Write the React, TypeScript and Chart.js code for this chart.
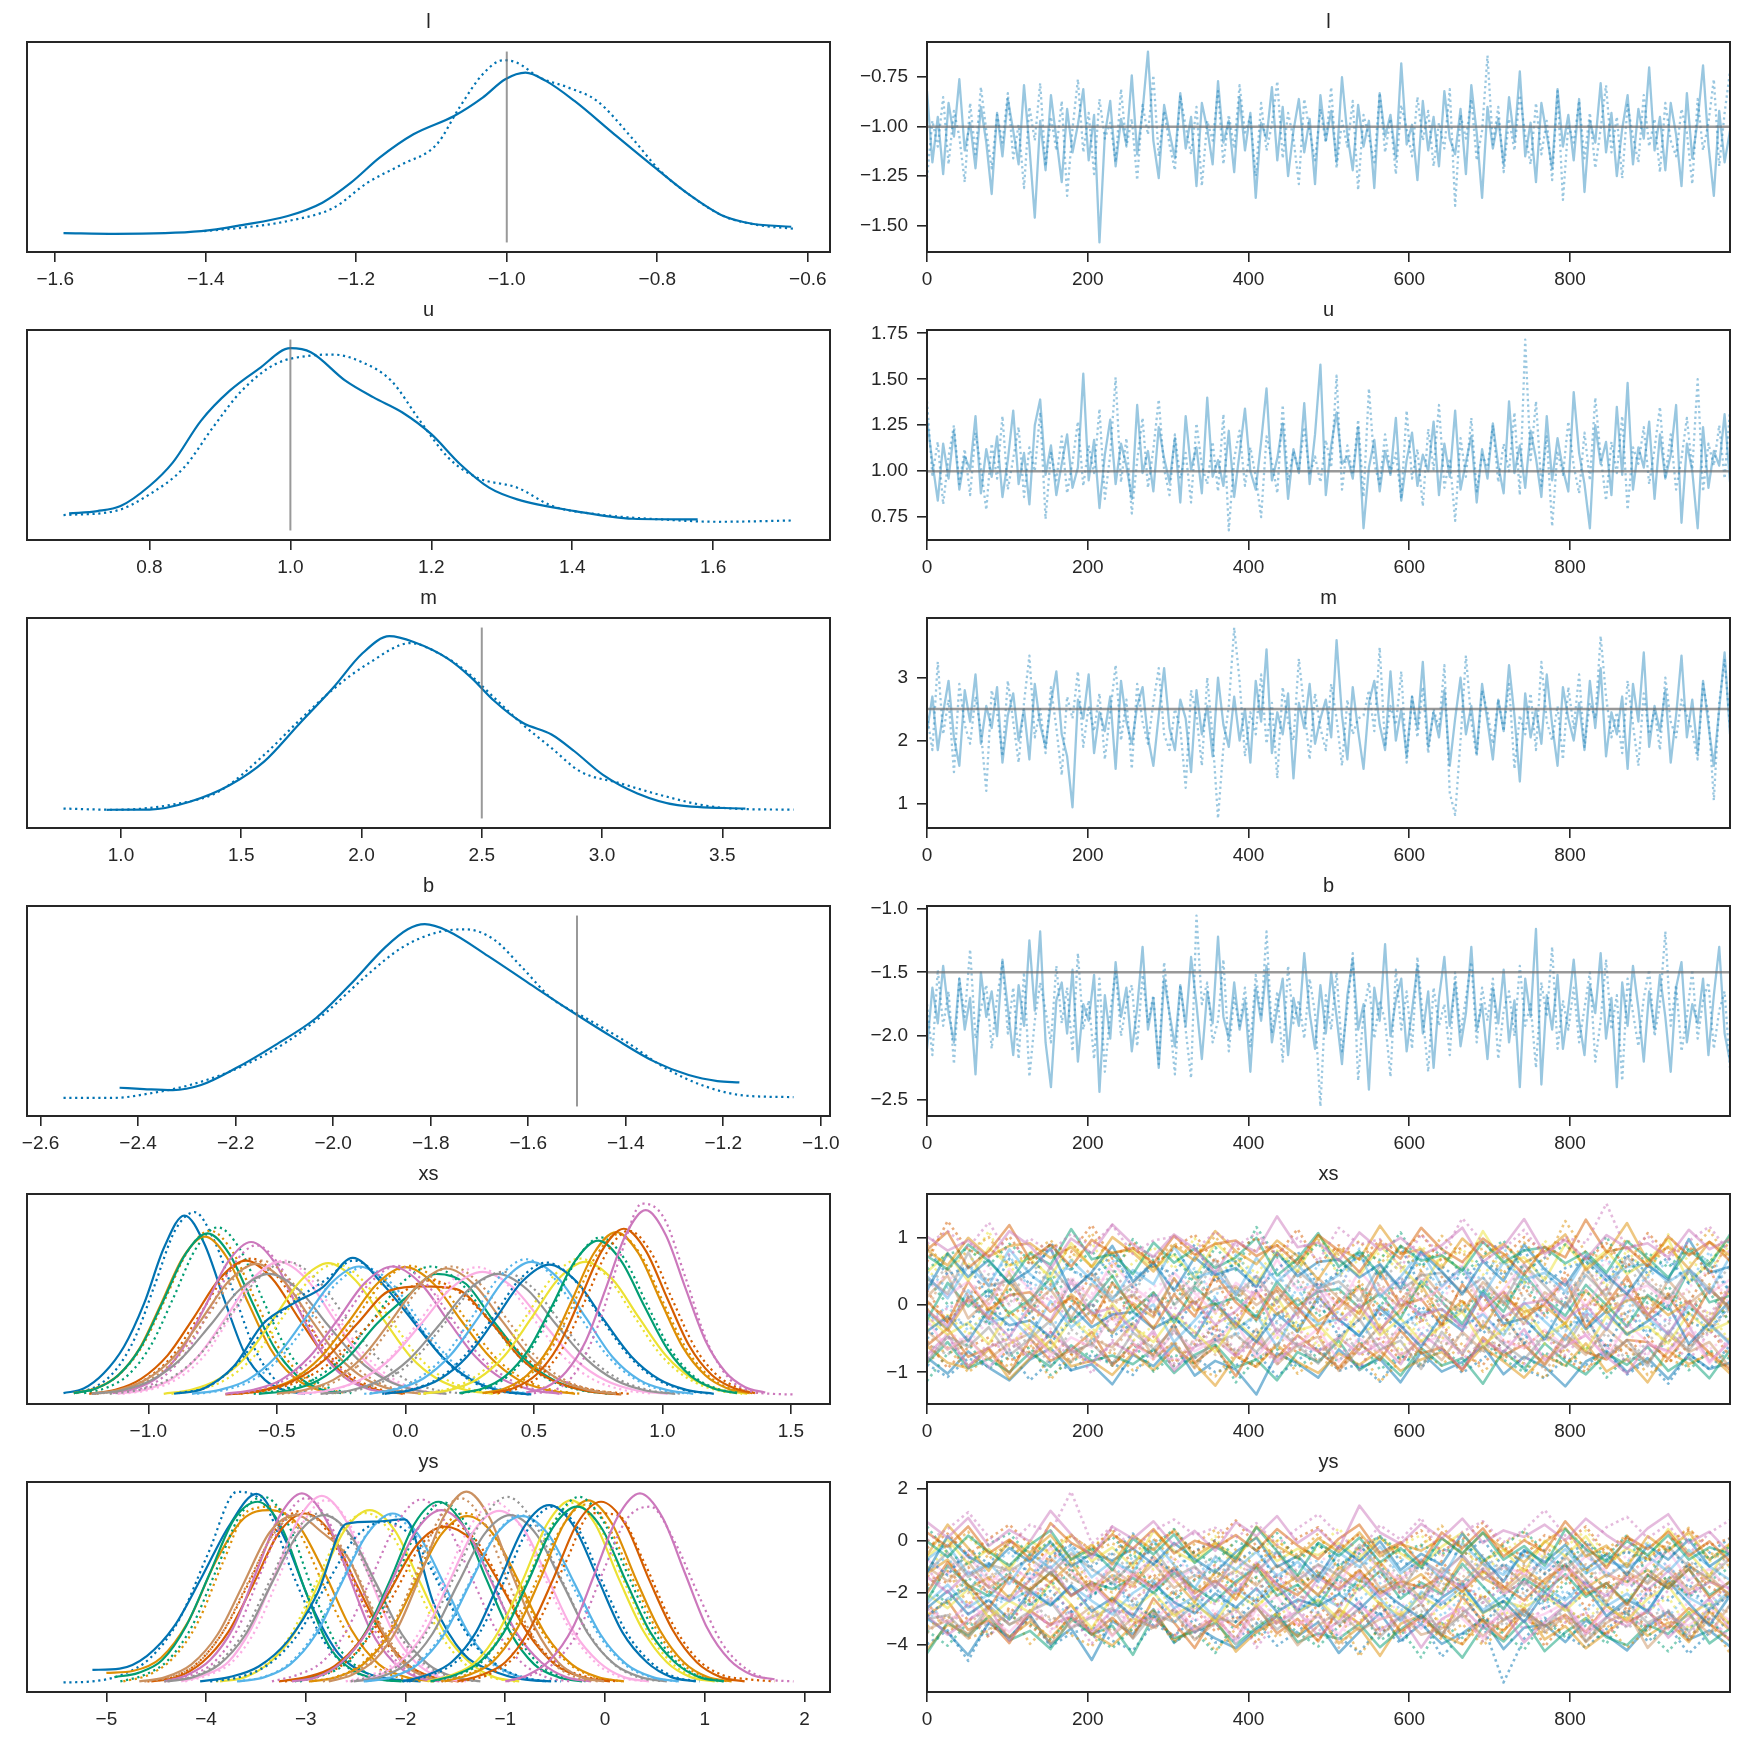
import React, { useEffect, useRef } from "react";
import { Chart, registerables } from "chart.js";

Chart.register(...registerables);

// ------------------------------------------------------------------ data
const PALETTE = ["#0173b2", "#de8f05", "#029e73", "#d55e00", "#cc78bc", "#ca9161", "#fbafe4", "#949494", "#ece133", "#56b4e9"];
const DRAW_LAST = 999;
const DRAW_TICKS = [0, 200, 400, 600, 800];

// reference values
const lRef = -1.0;
const uRef = 1.0;
const mRef = 2.5;
const bRef = -1.5;

// tick labels
const lKdeTicks = [-1.6, -1.4, -1.2, -1.0, -0.8, -0.6];
const lTraceTicks = [-1.5, -1.25, -1.0, -0.75];
const uKdeTicks = [0.8, 1.0, 1.2, 1.4, 1.6];
const uTraceTicks = [0.75, 1.0, 1.25, 1.5, 1.75];
const mKdeTicks = [1.0, 1.5, 2.0, 2.5, 3.0, 3.5];
const mTraceTicks = [1, 2, 3];
const bKdeTicks = [-2.6, -2.4, -2.2, -2.0, -1.8, -1.6, -1.4, -1.2, -1.0];
const bTraceTicks = [-2.5, -2.0, -1.5, -1.0];
const xsKdeTicks = [-1.0, -0.5, 0.0, 0.5, 1.0, 1.5];
const xsTraceTicks = [-1, 0, 1];
const ysKdeTicks = [-5, -4, -3, -2, -1, 0, 1, 2];
const ysTraceTicks = [-4, -2, 0, 2];

// KDE curves (chain 0 solid, chain 1 dotted)
const lKdeX0 = [-1.589, -1.52, -1.406, -1.352, -1.291, -1.245, -1.207, -1.169, -1.124, -1.07, -1.032, -1.002, -0.975, -0.948, -0.91, -0.857, -0.803, -0.758, -0.712, -0.674, -0.622];
const lKdeY0 = [0.058, 0.046, 0.092, 0.197, 0.353, 0.584, 0.931, 1.364, 1.769, 2.087, 2.405, 2.723, 2.838, 2.694, 2.347, 1.769, 1.191, 0.728, 0.353, 0.22, 0.168];
const lKdeX1 = [-1.402, -1.352, -1.291, -1.23, -1.185, -1.139, -1.093, -1.063, -1.032, -1.005, -0.987, -0.956, -0.918, -0.88, -0.834, -0.796, -0.758, -0.712, -0.666, -0.619];
const lKdeY1 = [0.092, 0.15, 0.266, 0.497, 0.931, 1.249, 1.595, 2.231, 2.809, 3.052, 3.012, 2.751, 2.578, 2.347, 1.711, 1.133, 0.728, 0.353, 0.197, 0.133];

const uKdeX0 = [0.686, 0.726, 0.759, 0.8, 0.833, 0.873, 0.914, 0.955, 1.0, 1.029, 1.078, 1.118, 1.159, 1.2, 1.241, 1.282, 1.322, 1.404, 1.486, 1.578];
const uKdeY0 = [0.253, 0.294, 0.382, 0.735, 1.147, 1.882, 2.412, 2.794, 3.159, 3.088, 2.588, 2.294, 2.029, 1.647, 1.118, 0.706, 0.5, 0.294, 0.159, 0.147];
const uKdeX1 = [0.678, 0.751, 0.8, 0.849, 0.89, 0.931, 0.979, 1.029, 1.061, 1.102, 1.143, 1.184, 1.224, 1.265, 1.322, 1.372, 1.437, 1.527, 1.608, 1.714];
const uKdeY1 = [0.224, 0.294, 0.588, 1.059, 1.765, 2.412, 2.882, 3.029, 3.047, 2.912, 2.588, 1.882, 1.235, 0.882, 0.706, 0.382, 0.235, 0.147, 0.106, 0.129];

const mKdeX0 = [0.94, 1.119, 1.286, 1.453, 1.596, 1.739, 1.883, 2.002, 2.116, 2.217, 2.36, 2.455, 2.551, 2.67, 2.79, 2.885, 3.004, 3.147, 3.314, 3.596];
const mKdeY0 = [0.027, 0.028, 0.067, 0.15, 0.267, 0.45, 0.633, 0.8, 0.887, 0.858, 0.775, 0.683, 0.567, 0.458, 0.4, 0.317, 0.2, 0.108, 0.05, 0.033];
const mKdeX1 = [0.761, 0.976, 1.215, 1.406, 1.596, 1.739, 1.883, 2.026, 2.205, 2.312, 2.431, 2.551, 2.67, 2.79, 2.909, 3.076, 3.243, 3.434, 3.601, 3.796];
const mKdeY1 = [0.033, 0.027, 0.053, 0.117, 0.3, 0.467, 0.625, 0.75, 0.853, 0.808, 0.717, 0.583, 0.45, 0.333, 0.217, 0.158, 0.1, 0.047, 0.03, 0.028];

const bKdeX0 = [-2.438, -2.388, -2.329, -2.271, -2.2, -2.118, -2.035, -1.965, -1.894, -1.847, -1.812, -1.765, -1.682, -1.6, -1.506, -1.424, -1.341, -1.271, -1.212, -1.167];
const bKdeY0 = [0.179, 0.166, 0.155, 0.207, 0.379, 0.621, 0.897, 1.241, 1.621, 1.81, 1.862, 1.793, 1.534, 1.259, 0.948, 0.69, 0.448, 0.31, 0.248, 0.234];
const bKdeX1 = [-2.553, -2.447, -2.376, -2.294, -2.188, -2.094, -2.012, -1.929, -1.859, -1.788, -1.729, -1.671, -1.612, -1.553, -1.482, -1.4, -1.318, -1.235, -1.153, -1.056];
const bKdeY1 = [0.076, 0.076, 0.121, 0.207, 0.397, 0.655, 0.966, 1.345, 1.621, 1.776, 1.81, 1.707, 1.414, 1.103, 0.897, 0.655, 0.379, 0.19, 0.097, 0.083];

// traces (thinned draws, evenly spaced over 0..999)
const lTrace0 = [
  -0.82,-1.18,-0.95,-1.24,-0.88,-1.05,-0.76,-1.12,-0.98,-1.21,-0.90,-1.08,-1.34,-0.93,-1.15,
  -0.86,-1.02,-1.19,-0.79,-1.10,-1.46,-0.97,-1.22,-0.84,-1.06,-1.28,-0.91,-1.13,-0.99,-0.81,
  -1.17,-0.94,-1.585,-1.04,-0.87,-1.20,-0.96,-1.09,-0.74,-1.14,-0.92,-0.62,-1.07,-1.26,-0.89,
  -1.03,-1.16,-0.83,-1.11,-0.95,-1.30,-0.88,-1.01,-1.19,-0.77,-1.08,-0.97,-1.23,-0.85,-1.12,
  -0.93,-1.36,-0.98,-1.06,-0.80,-1.17,-0.90,-1.25,-1.02,-0.86,-1.13,-0.96,-1.29,-0.84,-1.07,
  -0.92,-1.18,-0.75,-1.04,-1.22,-0.89,-1.10,-0.97,-1.31,-0.83,-1.05,-0.94,-1.16,-0.68,-1.09,
  -0.99,-1.27,-0.87,-1.12,-0.95,-1.20,-0.82,-1.06,-1.14,-0.91,-1.24,-0.79,-1.03,-1.36,-0.90,
  -1.11,-0.96,-1.19,-0.85,-1.07,-0.72,-1.15,-0.98,-1.28,-0.88,-1.04,-1.21,-0.81,-1.10,-0.94,
  -1.17,-0.86,-1.33,-0.97,-1.08,-0.78,-1.13,-0.93,-1.25,-1.01,-0.84,-1.19,-0.91,-1.06,-0.70,
  -1.12,-0.95,-1.22,-0.88,-1.04,-1.30,-0.83,-1.16,-0.97,-0.69,-1.09,-1.35,-0.92,-1.18,-1.02,
];
const lTrace1 = [
  -1.26,-0.97,-1.10,-0.85,-1.19,-0.92,-1.05,-1.28,-0.88,-1.14,-0.80,-1.02,-1.21,-0.94,-1.08,
  -0.83,-1.16,-0.99,-1.31,-0.90,-1.07,-0.78,-1.20,-0.95,-1.12,-0.87,-1.35,-1.01,-0.76,-1.13,
  -0.93,-1.24,-0.86,-1.06,-0.98,-1.18,-0.81,-1.10,-0.96,-1.27,-0.89,-1.04,-0.74,-1.15,-0.92,
  -1.09,-1.22,-0.84,-1.00,-1.14,-0.90,-1.30,-0.97,-1.07,-0.82,-1.19,-0.94,-1.11,-0.79,-1.03,
  -0.95,-1.25,-0.88,-1.12,-0.99,-0.77,-1.16,-0.93,-1.06,-1.29,-0.86,-1.02,-1.17,-0.91,-1.08,
  -0.80,-1.21,-0.97,-1.10,-0.87,-1.32,-0.94,-1.05,-1.18,-0.83,-1.13,-0.96,-1.24,-0.89,-1.01,
  -1.15,-0.85,-1.07,-0.92,-1.20,-0.98,-1.11,-0.81,-1.40,-0.94,-1.06,-0.86,-1.17,-1.02,-0.64,
  -1.09,-0.90,-1.23,-0.96,-1.12,-0.84,-1.04,-1.19,-0.88,-1.14,-0.97,-1.27,-0.82,-1.37,-0.99,
  -1.08,-0.87,-1.16,-0.93,-1.21,-1.01,-0.79,-1.13,-0.95,-1.26,-0.89,-1.05,-1.18,-0.84,-1.10,
  -0.96,-1.23,-0.88,-1.07,-1.15,-0.91,-1.03,-1.29,-0.86,-1.12,-0.98,-0.76,-1.20,-0.93,-0.72,
];
const uTrace0 = [
  1.28,1.05,0.84,1.15,0.96,1.22,0.90,1.08,1.01,1.30,0.88,1.12,0.97,1.19,0.86,
  1.06,1.33,0.93,1.10,0.82,1.25,1.39,0.98,1.14,0.87,1.04,1.20,0.91,1.02,1.53,
  0.95,1.17,0.80,1.09,1.28,0.93,1.15,1.03,0.85,1.36,0.99,1.11,0.89,1.24,1.07,
  0.94,1.18,0.83,1.30,1.01,1.13,0.88,1.40,0.97,1.06,0.92,1.22,0.86,1.10,1.34,
  1.00,0.90,1.16,1.45,0.95,1.07,1.26,0.85,1.12,0.99,1.37,0.93,1.20,1.58,0.87,
  1.14,1.32,1.04,1.08,0.96,1.24,0.69,1.02,1.17,0.89,1.11,0.98,1.29,0.84,1.06,
  1.21,0.92,1.09,1.00,1.27,0.87,1.15,0.97,1.33,0.90,1.05,1.19,0.83,1.12,0.96,
  1.26,1.03,0.88,1.38,0.99,1.14,0.91,1.22,1.07,0.86,1.30,0.95,1.18,1.01,0.89,
  1.43,1.10,0.93,0.69,1.25,1.04,1.16,0.87,1.35,0.98,1.48,0.90,1.13,1.02,1.27,
  0.85,1.20,0.96,1.09,1.36,0.72,1.15,1.00,0.69,1.24,0.91,1.11,1.03,1.31,0.94,
];
const uTrace1 = [
  1.38,0.98,1.16,0.82,1.08,1.25,0.93,1.12,0.87,1.21,1.02,0.79,1.15,0.96,1.30,
  0.90,1.07,1.24,0.86,1.13,1.00,1.32,0.74,1.10,0.95,1.19,0.88,1.05,1.27,0.92,
  1.14,0.99,1.34,0.85,1.09,1.51,0.94,1.18,0.77,1.06,1.29,0.91,1.12,1.39,1.01,
  0.87,1.20,0.96,1.10,0.83,1.26,1.03,0.93,1.16,0.89,1.31,0.678,1.07,1.22,0.92,
  1.13,0.97,0.75,1.19,1.05,0.88,1.36,0.95,1.11,1.00,1.24,0.98,1.08,0.94,1.17,
  1.02,1.52,0.90,1.14,0.98,1.28,0.86,1.45,1.04,0.93,1.20,0.99,1.10,0.85,1.33,
  0.96,1.12,0.81,1.23,1.01,1.36,0.91,1.07,0.73,1.18,0.97,1.29,0.89,1.09,1.02,
  1.25,0.94,1.15,1.00,1.32,0.87,1.716,1.06,1.38,0.92,1.19,0.70,1.11,0.98,1.27,
  1.03,0.88,1.21,0.95,1.40,1.08,0.84,1.16,0.99,1.30,0.79,1.13,1.04,1.24,0.93,
  1.12,1.35,0.97,1.20,0.90,1.07,1.29,1.01,1.50,0.89,1.15,1.03,1.25,0.96,1.33,
];
const mTrace0 = [
  2.15,2.70,1.85,2.45,2.95,2.05,1.60,2.80,2.30,3.05,1.95,2.55,2.20,2.85,1.65,
  2.40,2.75,2.00,2.50,1.70,2.90,2.25,1.90,2.60,3.10,2.10,1.75,0.94,2.65,2.35,
  3.05,1.80,2.45,2.15,2.70,1.55,2.95,2.30,1.95,2.55,2.85,2.05,1.60,2.40,3.15,
  2.20,1.85,2.65,2.35,1.50,2.80,2.10,2.55,1.75,3.00,2.25,1.90,2.70,2.00,2.50,
  1.65,2.95,2.30,3.45,1.80,2.45,2.10,2.75,1.40,2.60,2.20,2.90,1.95,2.35,2.65,
  2.05,3.596,2.40,1.70,2.85,2.15,1.55,2.60,2.95,2.25,1.85,3.10,2.00,2.50,1.75,
  2.70,2.20,3.25,1.90,2.45,2.05,2.80,1.60,2.35,3.00,2.10,2.55,1.80,2.90,2.30,
  1.70,2.65,2.15,3.20,2.40,1.35,2.75,2.05,2.50,1.95,3.05,2.25,1.60,2.85,2.35,
  2.00,2.60,1.85,2.95,2.20,3.15,1.75,2.45,2.10,2.70,1.55,2.90,2.30,3.40,1.90,
  2.55,2.15,2.80,1.65,2.40,3.35,2.05,2.65,1.80,2.95,2.25,1.60,2.50,3.40,2.10,
];
const mTrace1 = [
  2.40,1.85,3.25,2.10,2.65,1.50,2.90,2.25,1.95,2.70,2.15,1.20,2.80,2.45,1.75,
  2.95,2.30,1.65,2.60,3.35,2.05,2.50,1.80,2.85,2.20,1.45,2.70,2.35,3.10,1.90,
  2.55,2.15,2.75,1.70,2.45,3.20,2.00,2.65,1.55,2.90,2.30,1.95,2.60,3.15,2.10,
  1.85,2.50,2.20,1.25,2.80,2.40,1.60,3.00,2.05,0.763,1.90,2.55,3.796,2.95,1.75,
  2.45,2.10,3.05,1.95,2.60,1.40,2.85,2.30,2.00,3.30,2.50,1.70,2.75,2.20,1.85,
  2.90,2.35,1.60,2.65,2.10,2.35,2.40,2.80,2.15,3.48,1.90,2.55,2.25,3.10,1.65,
  2.70,2.05,2.85,1.80,2.50,2.20,3.20,1.17,0.82,2.00,3.35,2.30,1.75,2.80,2.45,
  1.95,2.65,2.15,2.90,1.55,2.40,2.10,2.75,1.85,3.25,2.30,2.00,2.55,1.70,2.85,
  2.20,3.05,1.90,2.60,2.35,3.66,2.70,2.05,2.45,1.80,2.95,2.25,1.60,2.75,2.10,
  2.50,1.85,3.00,2.30,2.05,2.65,2.40,2.15,1.70,2.90,2.40,1.05,2.60,3.28,2.20,
];
const bTrace0 = [
  -2.10,-1.62,-1.90,-1.45,-1.82,-2.05,-1.55,-1.95,-1.70,-2.30,-1.50,-1.85,-1.65,-2.00,-1.40,
  -1.78,-2.15,-1.60,-1.92,-1.25,-1.80,-1.18,-2.05,-2.40,-1.72,-1.58,-1.98,-1.48,-2.20,-1.75,
  -1.88,-1.52,-2.438,-1.68,-2.02,-1.42,-1.85,-1.62,-2.12,-1.78,-1.30,-1.95,-1.70,-2.25,-1.55,
  -1.82,-2.08,-1.60,-1.92,-1.38,-1.75,-2.18,-1.65,-1.90,-1.22,-1.85,-2.02,-1.58,-1.95,-1.72,
  -2.28,-1.62,-1.88,-1.45,-2.05,-1.78,-1.55,-2.15,-1.70,-1.92,-1.35,-1.82,-2.10,-1.60,-1.98,
  -1.50,-1.85,-2.22,-1.68,-1.40,-1.95,-1.75,-2.42,-1.62,-1.88,-1.28,-2.00,-1.72,-1.55,-2.12,
  -1.80,-1.45,-1.98,-1.65,-2.25,-1.70,-1.38,-1.92,-1.58,-2.08,-1.82,-1.30,-1.95,-1.75,-2.18,
  -1.62,-1.90,-1.48,-2.05,-1.72,-2.40,-1.55,-1.85,-1.16,-2.38,-1.68,-1.95,-1.52,-2.10,-1.78,
  -1.40,-1.88,-2.15,-1.60,-1.82,-1.35,-2.02,-1.70,-2.40,-1.58,-1.92,-1.45,-1.78,-2.20,-1.65,
  -1.95,-1.52,-1.85,-2.28,-1.62,-1.42,-2.05,-1.75,-1.90,-1.55,-2.15,-1.68,-1.30,-1.98,-2.20,
];
const bTrace1 = [
  -1.75,-2.15,-1.48,-1.92,-1.65,-2.22,-1.55,-1.85,-1.32,-2.02,-1.78,-1.60,-2.10,-1.70,-1.42,
  -1.98,-1.62,-2.18,-1.50,-2.32,-1.88,-1.58,-1.80,-2.05,-1.45,-1.90,-1.62,-2.12,-1.35,-1.95,
  -1.72,-2.18,-1.55,-2.28,-1.82,-1.48,-2.00,-1.75,-1.60,-2.08,-1.52,-1.90,-1.68,-2.22,-1.42,
  -1.85,-2.30,-1.60,-1.95,-2.33,-1.055,-1.75,-1.58,-2.05,-1.88,-1.40,-2.12,-1.70,-1.92,-1.62,
  -2.08,-1.52,-1.85,-1.18,-1.98,-1.65,-2.20,-1.45,-1.90,-1.72,-2.02,-1.55,-1.82,-2.552,-1.68,
  -1.95,-1.50,-2.12,-1.78,-1.35,-2.35,-1.82,-1.58,-2.02,-1.72,-1.88,-2.32,-1.48,-1.95,-1.65,
  -2.10,-1.38,-1.85,-2.28,-1.62,-1.92,-1.75,-2.15,-1.50,-1.98,-1.70,-1.42,-2.05,-1.62,-1.88,
  -1.55,-2.18,-1.80,-1.65,-2.00,-1.45,-1.92,-1.75,-2.25,-1.58,-1.85,-1.30,-2.10,-1.72,-1.95,
  -1.62,-2.05,-1.78,-1.50,-2.20,-1.88,-1.40,-1.95,-1.68,-2.35,-1.55,-1.82,-2.08,-1.70,-1.48,
  -2.00,-1.75,-1.18,-1.92,-1.60,-2.12,-1.85,-1.48,-2.02,-1.72,-1.58,-2.10,-1.80,-1.65,-2.25,
];

// xs: KDE grid ranges and densities per variable (25 variables)
const xsLo0 = [-1.33,-1.29,-1.29,-1.23,-1.14,-1.22,-1.12,-1.22,-0.94,-0.83,-0.90,-0.66,-0.57,-0.70,-0.70,-0.50,-0.42,-0.33,0.07,-0.14,-0.08,0.30,0.21,0.34,0.47];
const xsHi0 = [-0.39,-0.27,-0.25,-0.01,-0.06,0.06,0.14,0.16,0.34,0.47,0.49,0.66,0.81,0.84,0.60,0.82,1.02,1.05,1.33,1.12,1.20,1.34,1.29,1.36,1.40];
const xsLo1 = [-1.28,-1.29,-1.25,-1.21,-1.12,-1.20,-1.10,-1.15,-0.91,-0.81,-0.88,-0.64,-0.59,-0.67,-0.68,-0.48,-0.40,-0.31,0.05,-0.16,-0.09,0.31,0.22,0.36,0.50];
const xsHi1 = [-0.36,-0.23,-0.21,0.01,-0.04,0.08,0.16,0.23,0.37,0.49,0.48,0.68,0.79,0.87,0.62,0.84,0.96,1.07,1.31,1.10,1.19,1.35,1.30,1.38,1.51];
const xsDens0 = [
  [0.05,0.12,0.35,0.75,1.40,2.25,2.73,2.30,1.45,0.65,0.25,0.09,0.04],
  [0.05,0.12,0.31,0.72,1.40,2.10,2.41,2.10,1.40,0.72,0.31,0.12,0.05],
  [0.05,0.12,0.32,0.74,1.43,2.14,2.46,2.14,1.43,0.74,0.32,0.12,0.05],
  [0.04,0.10,0.27,0.62,1.19,1.78,2.05,1.78,1.19,0.62,0.27,0.10,0.04],
  [0.05,0.12,0.30,0.70,1.35,2.03,2.33,2.03,1.35,0.70,0.30,0.12,0.05],
  [0.04,0.10,0.26,0.60,1.16,1.74,2.00,1.74,1.16,0.60,0.26,0.10,0.04],
  [0.04,0.10,0.26,0.61,1.18,1.77,2.03,1.77,1.18,0.61,0.26,0.10,0.04],
  [0.04,0.09,0.24,0.56,1.07,1.61,1.85,1.61,1.07,0.56,0.24,0.09,0.04],
  [0.04,0.10,0.26,0.60,1.17,1.75,2.01,1.75,1.17,0.60,0.26,0.10,0.04],
  [0.04,0.10,0.25,0.59,1.14,1.71,1.96,1.71,1.14,0.59,0.25,0.10,0.04],
  [0.04,0.12,0.45,1.10,1.40,1.65,2.09,1.70,1.15,0.60,0.25,0.08,0.03],
  [0.04,0.10,0.25,0.59,1.13,1.70,1.95,1.70,1.13,0.59,0.25,0.10,0.04],
  [0.04,0.09,0.24,0.58,1.10,1.50,1.85,1.70,1.10,0.56,0.24,0.09,0.04],
  [0.03,0.08,0.22,0.55,1.10,1.60,1.66,1.62,1.15,0.55,0.22,0.08,0.03],
  [0.04,0.10,0.25,0.59,1.14,1.71,1.96,1.71,1.14,0.59,0.25,0.10,0.04],
  [0.04,0.10,0.25,0.58,1.12,1.68,1.93,1.68,1.12,0.58,0.25,0.10,0.04],
  [0.04,0.09,0.24,0.56,1.09,1.64,1.88,1.64,1.09,0.56,0.24,0.09,0.04],
  [0.04,0.09,0.24,0.56,1.07,1.61,1.85,1.61,1.07,0.56,0.24,0.09,0.04],
  [0.04,0.10,0.26,0.61,1.18,1.77,2.03,1.77,1.18,0.61,0.26,0.10,0.04],
  [0.04,0.11,0.27,0.62,1.17,1.76,2.03,1.78,1.20,0.60,0.25,0.10,0.04],
  [0.04,0.10,0.26,0.60,1.15,1.73,1.99,1.73,1.15,0.60,0.26,0.10,0.04],
  [0.05,0.12,0.32,0.74,1.44,2.16,2.48,2.16,1.44,0.74,0.32,0.12,0.05],
  [0.05,0.12,0.31,0.71,1.36,2.04,2.35,2.04,1.36,0.71,0.31,0.12,0.05],
  [0.05,0.13,0.33,0.76,1.47,2.20,2.53,2.20,1.47,0.76,0.33,0.13,0.05],
  [0.06,0.14,0.37,0.84,1.63,2.44,2.81,2.44,1.63,0.84,0.37,0.14,0.06],
];
const xsDens1 = [
  [0.05,0.15,0.40,0.90,1.70,2.50,2.78,2.35,1.55,0.75,0.28,0.10,0.04],
  [0.05,0.13,0.33,0.75,1.45,2.18,2.50,2.18,1.45,0.75,0.33,0.13,0.05],
  [0.05,0.13,0.33,0.77,1.48,2.22,2.55,2.22,1.48,0.77,0.33,0.13,0.05],
  [0.04,0.10,0.27,0.62,1.21,1.81,2.08,1.81,1.21,0.62,0.27,0.10,0.04],
  [0.05,0.11,0.30,0.68,1.32,1.98,2.28,1.98,1.32,0.68,0.30,0.11,0.05],
  [0.04,0.10,0.27,0.62,1.19,1.78,2.05,1.78,1.19,0.62,0.27,0.10,0.04],
  [0.04,0.10,0.26,0.60,1.20,1.80,2.05,1.76,1.17,0.62,0.27,0.10,0.04],
  [0.04,0.10,0.26,0.61,1.18,1.77,2.03,1.77,1.18,0.61,0.26,0.10,0.04],
  [0.04,0.10,0.26,0.60,1.16,1.74,2.00,1.74,1.16,0.60,0.26,0.10,0.04],
  [0.04,0.10,0.25,0.59,1.13,1.70,1.95,1.70,1.13,0.59,0.25,0.10,0.04],
  [0.05,0.15,0.50,1.05,1.45,1.75,2.05,1.75,1.20,0.62,0.24,0.08,0.03],
  [0.04,0.10,0.26,0.59,1.14,1.71,1.97,1.71,1.14,0.59,0.26,0.10,0.04],
  [0.04,0.10,0.25,0.59,1.14,1.71,1.96,1.71,1.14,0.59,0.25,0.10,0.04],
  [0.04,0.09,0.23,0.53,1.02,1.52,1.75,1.52,1.02,0.53,0.23,0.09,0.04],
  [0.04,0.10,0.26,0.59,1.14,1.71,1.97,1.71,1.14,0.59,0.26,0.10,0.04],
  [0.04,0.10,0.25,0.59,1.14,1.70,1.96,1.70,1.14,0.59,0.25,0.10,0.04],
  [0.04,0.10,0.25,0.58,1.13,1.70,1.95,1.70,1.13,0.58,0.25,0.10,0.04],
  [0.04,0.09,0.24,0.56,1.09,1.64,1.88,1.64,1.09,0.56,0.24,0.09,0.04],
  [0.04,0.10,0.27,0.62,1.21,1.81,2.08,1.81,1.21,0.62,0.27,0.10,0.04],
  [0.04,0.10,0.27,0.62,1.20,1.80,2.07,1.80,1.20,0.62,0.27,0.10,0.04],
  [0.04,0.10,0.26,0.61,1.17,1.76,2.02,1.76,1.17,0.61,0.26,0.10,0.04],
  [0.05,0.12,0.32,0.74,1.42,2.13,2.45,2.13,1.42,0.74,0.32,0.12,0.05],
  [0.05,0.12,0.31,0.72,1.39,2.09,2.40,2.09,1.39,0.72,0.31,0.12,0.05],
  [0.05,0.13,0.33,0.75,1.45,2.18,2.50,2.18,1.45,0.75,0.33,0.13,0.05],
  [0.05,0.10,0.40,1.10,2.12,2.91,2.70,1.80,0.83,0.28,0.08,0.04,0.03],
];

// ys: KDE grid ranges and densities per variable (25 variables)
const ysLo0 = [-5.14,-5.00,-4.92,-4.55,-4.42,-4.67,-4.25,-4.39,-3.86,-3.67,-4.06,-2.95,-3.11,-3.27,-3.14,-2.77,-2.56,-2.52,-1.78,-2.40,-2.03,-1.61,-1.75,-1.48,-1.00];
const ysHi0 = [-1.85,-1.72,-2.04,-1.47,-1.66,-1.53,-1.43,-1.25,-0.86,-0.59,-0.54,0.19,-0.23,0.05,-0.14,-0.01,0.44,0.62,1.10,0.74,0.91,1.27,1.19,1.40,1.70];
const ysLo1 = [-5.43,-4.83,-4.86,-4.59,-4.38,-4.62,-4.21,-4.42,-3.90,-3.69,-3.96,-2.97,-3.06,-3.21,-3.34,-2.83,-2.60,-2.55,-1.74,-2.42,-1.99,-1.64,-1.73,-1.44,-0.98];
const ysHi1 = [-1.95,-1.83,-1.98,-1.51,-1.62,-1.48,-1.39,-1.28,-0.90,-0.61,-0.44,0.17,-0.18,0.11,-0.34,-0.07,0.40,0.59,1.14,0.72,0.95,1.24,1.21,1.70,1.89];
const ysDens0 = [
  [0.094,0.10,0.16,0.30,0.53,0.77,0.92,0.72,0.40,0.17,0.08,0.05,0.04],
  [0.08,0.09,0.15,0.32,0.60,0.80,0.844,0.78,0.55,0.28,0.12,0.06,0.04],
  [0.06,0.08,0.14,0.30,0.55,0.80,0.883,0.76,0.46,0.20,0.09,0.05,0.04],
  [0.04,0.06,0.13,0.27,0.50,0.74,0.828,0.74,0.50,0.27,0.12,0.06,0.04],
  [0.04,0.07,0.14,0.29,0.55,0.81,0.922,0.81,0.55,0.28,0.13,0.06,0.04],
  [0.04,0.06,0.12,0.26,0.50,0.74,0.82,0.74,0.62,0.35,0.14,0.06,0.04],
  [0.04,0.07,0.13,0.29,0.54,0.80,0.911,0.80,0.54,0.28,0.13,0.06,0.04],
  [0.04,0.06,0.12,0.26,0.50,0.73,0.82,0.73,0.50,0.26,0.12,0.06,0.04],
  [0.04,0.06,0.13,0.27,0.51,0.75,0.844,0.75,0.51,0.27,0.13,0.06,0.04],
  [0.04,0.06,0.12,0.26,0.50,0.73,0.828,0.73,0.50,0.26,0.12,0.06,0.04],
  [0.04,0.06,0.11,0.23,0.45,0.78,0.79,0.80,0.40,0.17,0.09,0.05,0.04],
  [0.04,0.06,0.12,0.26,0.50,0.73,0.816,0.73,0.50,0.26,0.12,0.06,0.04],
  [0.04,0.07,0.13,0.28,0.52,0.78,0.883,0.78,0.52,0.27,0.12,0.06,0.04],
  [0.04,0.06,0.11,0.24,0.46,0.68,0.766,0.70,0.50,0.27,0.12,0.06,0.04],
  [0.04,0.06,0.13,0.27,0.51,0.75,0.844,0.75,0.51,0.27,0.13,0.06,0.04],
  [0.04,0.07,0.14,0.29,0.54,0.81,0.931,0.81,0.54,0.29,0.13,0.06,0.04],
  [0.04,0.06,0.13,0.27,0.51,0.75,0.84,0.75,0.51,0.27,0.13,0.06,0.04],
  [0.04,0.06,0.12,0.26,0.50,0.73,0.82,0.73,0.50,0.26,0.12,0.06,0.04],
  [0.04,0.07,0.13,0.28,0.52,0.78,0.89,0.78,0.52,0.28,0.13,0.06,0.04],
  [0.04,0.06,0.12,0.26,0.50,0.73,0.816,0.73,0.50,0.26,0.12,0.06,0.04],
  [0.04,0.07,0.13,0.27,0.52,0.77,0.867,0.77,0.52,0.27,0.13,0.06,0.04],
  [0.04,0.07,0.13,0.28,0.52,0.78,0.89,0.78,0.52,0.28,0.13,0.06,0.04],
  [0.04,0.07,0.13,0.27,0.51,0.76,0.86,0.76,0.51,0.27,0.13,0.06,0.04],
  [0.04,0.07,0.13,0.28,0.52,0.78,0.883,0.78,0.52,0.28,0.13,0.06,0.04],
  [0.04,0.07,0.14,0.29,0.55,0.81,0.922,0.81,0.55,0.29,0.14,0.07,0.05],
];
const ysDens1 = [
  [0.035,0.04,0.07,0.15,0.33,0.64,0.93,0.86,0.52,0.23,0.09,0.05,0.04],
  [0.04,0.07,0.15,0.32,0.60,0.84,0.86,0.75,0.50,0.26,0.12,0.06,0.04],
  [0.04,0.07,0.14,0.30,0.56,0.82,0.906,0.78,0.48,0.22,0.10,0.05,0.04],
  [0.04,0.06,0.13,0.28,0.51,0.75,0.84,0.75,0.51,0.28,0.13,0.06,0.04],
  [0.04,0.07,0.13,0.28,0.54,0.79,0.90,0.79,0.54,0.28,0.13,0.06,0.04],
  [0.04,0.06,0.12,0.27,0.51,0.74,0.83,0.76,0.58,0.32,0.13,0.06,0.04],
  [0.04,0.07,0.13,0.28,0.53,0.78,0.89,0.78,0.53,0.28,0.13,0.06,0.04],
  [0.04,0.06,0.12,0.26,0.50,0.74,0.83,0.74,0.50,0.26,0.12,0.06,0.04],
  [0.04,0.06,0.12,0.26,0.50,0.74,0.83,0.74,0.50,0.26,0.12,0.06,0.04],
  [0.04,0.06,0.12,0.26,0.49,0.72,0.82,0.72,0.49,0.26,0.12,0.06,0.04],
  [0.04,0.06,0.12,0.26,0.50,0.72,0.79,0.70,0.45,0.22,0.10,0.05,0.04],
  [0.04,0.06,0.12,0.26,0.50,0.74,0.83,0.74,0.50,0.26,0.12,0.06,0.04],
  [0.04,0.07,0.13,0.28,0.52,0.77,0.88,0.77,0.52,0.27,0.12,0.06,0.04],
  [0.04,0.06,0.11,0.24,0.46,0.69,0.78,0.69,0.46,0.24,0.11,0.06,0.04],
  [0.04,0.07,0.13,0.28,0.53,0.78,0.894,0.78,0.53,0.28,0.13,0.06,0.04],
  [0.04,0.07,0.13,0.28,0.53,0.79,0.90,0.79,0.53,0.28,0.13,0.06,0.04],
  [0.04,0.07,0.13,0.28,0.52,0.77,0.88,0.77,0.52,0.28,0.13,0.06,0.04],
  [0.04,0.07,0.13,0.29,0.54,0.79,0.906,0.79,0.54,0.29,0.13,0.06,0.04],
  [0.04,0.07,0.13,0.28,0.52,0.77,0.88,0.77,0.52,0.28,0.13,0.06,0.04],
  [0.04,0.06,0.12,0.26,0.49,0.72,0.82,0.72,0.49,0.26,0.12,0.06,0.04],
  [0.04,0.07,0.13,0.27,0.51,0.76,0.86,0.76,0.51,0.27,0.13,0.06,0.04],
  [0.04,0.07,0.13,0.28,0.52,0.76,0.87,0.76,0.52,0.28,0.13,0.06,0.04],
  [0.04,0.07,0.13,0.29,0.54,0.79,0.906,0.79,0.54,0.29,0.13,0.06,0.04],
  [0.04,0.07,0.15,0.33,0.60,0.83,0.82,0.60,0.33,0.15,0.07,0.05,0.04],
  [0.04,0.07,0.13,0.28,0.55,0.80,0.86,0.70,0.45,0.22,0.10,0.05,0.04],
];

// xs traces (thinned draws), chain 0 and chain 1
const xsTrace0 = [
  [-0.78,-1.02,-0.69,-0.93,-1.12,-0.81,-0.64,-0.97,-0.88,-1.18,-0.74,-0.91,-0.58,-1.05,-0.83,-0.96,-1.33,-0.72,-0.87,-1.08,-0.66,-0.94,-0.80,-1.15,-0.70,-0.99,-0.85,-0.61,-1.03,-0.77,-0.92,-1.21,-0.84,-0.68,-1.00,-0.79,-1.10,-0.73,-0.95,-0.86],
  [-0.61,-0.86,-0.94,-0.66,-1.10,-0.79,-0.52,-0.91,-0.83,-1.04,-0.71,-0.97,-0.64,-0.87,-1.20,-0.76,-0.92,-0.59,-0.85,-1.01,-0.72,-0.89,-0.67,-0.98,-0.81,-0.70,-0.95,-0.62,-0.84,-1.08,-0.75,-0.90,-0.57,-0.99,-0.80,-1.15,-0.68,-0.88,-0.73,-1.02],
  [-0.86,-0.55,-0.94,-0.80,-1.00,-0.71,-0.92,-0.60,-0.83,-0.75,-0.88,-0.66,-1.01,-0.74,-0.59,-0.93,-0.81,-1.12,-0.70,-0.85,-0.53,-0.97,-0.76,-1.05,-0.64,-0.90,-0.79,-1.17,-0.68,-0.95,-0.57,-0.84,-1.03,-0.72,-0.89,-0.62,-0.98,-0.78,-1.09,-0.67],
  [-0.60,-0.35,-0.77,-0.64,-1.02,-0.50,-0.83,-0.67,-0.40,-0.90,-0.58,-0.74,-0.29,-0.86,-0.62,-1.06,-0.53,-0.78,-0.45,-0.69,-0.93,-0.57,-0.82,-0.38,-0.72,-0.63,-0.98,-0.48,-0.75,-0.59,-0.88,-0.44,-0.70,-0.81,-0.52,-0.55,-0.80,-0.42,-0.71,-0.96],
  [-0.74,-0.44,-0.91,-0.63,-0.50,-0.79,-0.40,-0.67,-0.86,-0.56,-0.72,-0.38,-0.98,-0.62,-0.51,-0.76,-0.46,-0.83,-0.58,-0.69,-0.48,-0.73,-0.57,-0.88,-0.42,-0.66,-0.95,-0.53,-0.70,-0.36,-0.82,-0.61,-0.45,-0.77,-1.02,-0.59,-0.68,-0.31,-0.84,-0.55],
  [-0.38,-0.66,-0.51,-0.80,-0.57,-0.42,-0.69,-0.85,-0.50,-0.63,-0.27,-0.78,-0.56,-0.94,-0.45,-0.71,-0.36,-0.88,-0.60,-0.47,-0.98,-0.65,-0.31,-0.76,-0.53,-0.82,-0.40,-0.68,-0.16,-0.59,-0.90,-0.49,-0.74,-0.35,-0.62,-0.86,-0.44,-0.70,-0.55,-0.93],
  [-0.22,-0.66,-0.45,-0.93,-0.58,-0.33,-0.75,-0.48,-0.63,-0.13,-0.56,-0.81,-0.39,-0.69,-0.52,-0.26,-0.77,-0.43,-0.60,-0.35,-0.84,-0.50,-0.70,-0.31,-0.57,-0.46,-0.73,-0.09,-0.54,-0.64,-0.37,-0.62,-0.44,-0.79,-0.28,-0.55,-0.71,-0.40,-0.87,-0.51],
  [-0.84,-0.47,-0.62,-0.33,-0.75,-0.50,-0.23,-0.71,-0.57,-0.88,-0.41,-0.65,-0.36,-0.79,-0.54,-0.44,-0.70,-0.35,-0.61,-0.87,-0.49,-0.21,-0.66,-0.53,-0.95,-0.40,-0.73,-0.29,-0.58,-0.81,-0.45,-0.63,-0.15,-0.77,-0.52,-0.91,-0.38,-0.68,-0.27,-0.56],
  [-0.18,-0.44,-0.26,-0.58,-0.09,-0.36,-0.66,-0.21,-0.48,0.02,-0.33,-0.55,-0.14,-0.40,-0.70,-0.24,-0.51,0.12,-0.38,-0.29,-0.62,-0.06,-0.45,-0.20,-0.54,-0.31,-0.10,-0.60,-0.35,-0.02,-0.47,-0.27,-0.68,-0.16,-0.42,-0.32,-0.57,-0.12,-0.39,-0.25],
  [-0.12,-0.35,0.22,-0.26,-0.17,-0.48,0.06,-0.33,-0.08,-0.41,-0.19,0.01,-0.55,-0.23,0.10,-0.36,-0.15,-0.62,-0.04,-0.28,-0.21,-0.46,0.00,-0.30,-0.11,-0.06,-0.31,-0.14,-0.45,0.04,-0.24,-0.52,-0.10,-0.37,0.14,-0.20,-0.43,-0.02,-0.29,-0.58],
  [-0.39,-0.17,-0.54,-0.07,-0.30,-0.23,-0.48,-0.02,-0.33,-0.14,-0.10,-0.35,-0.18,-0.49,0.02,-0.27,-0.55,-0.13,-0.40,0.12,-0.22,-0.46,-0.05,-0.31,-0.62,-0.15,-0.38,0.18,-0.28,-0.20,-0.51,0.04,-0.36,-0.09,-0.44,-0.24,0.00,-0.58,-0.26,0.06],
  [-0.06,-0.38,0.09,-0.20,0.33,-0.02,-0.25,0.16,-0.11,-0.42,0.03,-0.18,0.40,-0.08,0.02,-0.33,0.20,-0.14,0.10,-0.24,-0.04,0.27,-0.36,-0.07,0.30,-0.19,0.06,-0.35,0.14,-0.10,-0.01,-0.28,0.22,-0.12,0.07,0.12,-0.15,0.05,-0.30,0.24],
  [-0.22,0.33,-0.02,0.23,-0.13,0.08,0.40,-0.25,0.06,0.44,-0.09,0.19,-0.26,0.27,0.01,0.11,-0.18,0.35,-0.01,0.20,0.24,-0.04,0.17,-0.20,0.36,0.05,-0.28,0.21,-0.10,0.46,0.09,-0.16,0.30,0.00,-0.32,0.15,-0.07,0.52,0.04,0.14],
  [0.06,-0.25,0.35,-0.07,0.15,0.19,-0.10,0.12,-0.27,0.33,0.00,-0.35,0.16,-0.17,0.45,0.04,-0.22,0.27,-0.05,-0.39,0.10,-0.13,0.50,-0.01,0.09,-0.30,0.31,-0.08,0.20,-0.20,0.02,0.39,-0.33,0.01,0.43,-0.15,0.14,-0.31,0.24,-0.04],
  [-0.08,-0.31,0.11,-0.17,-0.47,-0.02,-0.23,0.35,-0.13,-0.04,-0.38,0.15,-0.19,0.05,-0.29,-0.09,0.22,-0.41,-0.11,0.26,-0.24,0.01,-0.40,0.09,-0.15,-0.06,-0.33,0.17,-0.18,0.02,0.07,-0.21,0.00,-0.36,0.18,-0.12,-0.43,0.04,-0.26,0.29],
  [0.12,0.44,-0.20,0.09,0.47,-0.04,0.23,-0.19,0.31,0.05,0.15,-0.12,0.39,0.03,0.24,0.28,0.00,0.21,-0.15,0.40,0.10,-0.22,0.25,-0.05,0.50,0.13,-0.10,0.34,0.04,-0.28,0.19,-0.02,0.56,0.08,0.17,-0.18,0.37,0.02,0.27,-0.08],
  [0.42,0.14,0.35,-0.01,0.54,0.24,-0.08,0.39,0.09,0.64,0.27,0.04,0.48,0.18,-0.12,0.33,0.12,0.68,0.22,0.31,-0.04,0.51,0.16,0.41,0.06,0.26,0.58,-0.06,0.23,0.62,0.10,0.37,-0.02,0.45,0.19,0.29,0.02,0.53,0.17,0.38],
  [0.39,0.17,0.78,0.28,0.37,0.01,0.57,0.21,0.47,0.11,0.32,0.64,0.00,0.29,0.68,0.15,0.43,0.03,0.51,0.25,0.35,0.07,0.59,0.22,0.44,0.48,0.19,0.41,0.04,0.60,0.29,-0.04,0.45,0.14,0.72,0.33,0.09,0.54,0.24,-0.04],
  [0.49,0.77,0.36,0.85,0.59,0.69,0.42,0.92,0.57,0.78,0.82,0.55,0.75,0.40,0.93,0.64,0.32,0.79,0.50,1.04,0.67,0.44,0.88,0.58,0.26,0.73,0.52,1.10,0.62,0.71,0.37,0.91,0.56,0.81,0.46,0.66,0.98,0.34,0.63,1.02],
  [0.43,0.10,0.58,0.29,0.83,0.46,0.22,0.67,0.37,0.07,0.52,0.31,0.87,0.41,0.50,0.15,0.70,0.35,0.60,0.25,0.45,0.77,0.12,0.42,0.81,0.28,0.56,0.14,0.64,0.38,0.48,0.20,0.71,0.36,0.57,0.61,0.34,0.54,0.18,0.72],
  [0.22,0.77,0.42,0.67,0.32,0.52,0.84,0.20,0.49,0.88,0.35,0.63,0.21,0.71,0.45,0.55,0.27,0.78,0.43,0.64,0.68,0.41,0.61,0.25,0.79,0.50,0.16,0.65,0.36,0.90,0.53,0.29,0.74,0.44,0.16,0.59,0.38,0.98,0.48,0.57],
  [0.82,0.59,1.00,0.72,0.88,0.92,0.70,0.86,0.57,1.01,0.78,0.50,0.89,0.66,1.10,0.80,0.61,0.96,0.73,0.38,0.84,0.68,1.18,0.76,0.83,0.55,0.99,0.71,0.91,0.63,0.79,1.05,0.52,0.77,1.22,0.65,0.87,0.54,0.94,0.74],
  [0.73,0.53,0.90,0.65,0.33,0.77,0.60,1.13,0.68,0.76,0.46,0.93,0.63,0.84,0.55,0.71,1.00,0.44,0.69,1.07,0.57,0.80,0.45,0.88,0.66,0.74,0.51,0.94,0.64,0.81,0.86,0.62,0.79,0.48,0.95,0.70,0.41,0.82,0.58,1.05],
  [0.82,1.09,0.55,0.80,1.19,0.68,0.90,0.57,0.97,0.77,0.85,0.62,1.03,0.75,0.91,0.96,0.73,0.89,0.61,1.04,0.81,0.49,0.92,0.69,1.15,0.83,0.64,0.99,0.76,0.45,0.87,0.71,1.27,0.79,0.86,0.58,1.02,0.74,0.94,0.66],
  [1.02,0.81,0.96,0.70,1.10,0.88,0.54,0.99,0.77,1.20,0.90,0.72,1.05,0.84,0.48,0.94,0.79,1.32,0.86,0.93,0.66,1.08,0.82,1.00,0.74,0.89,1.15,0.64,0.87,1.28,0.76,0.97,0.68,1.04,0.85,0.92,0.71,1.12,0.83,0.98],
];
const xsTrace1 = [
  [-0.88,-1.07,-0.79,-0.92,-0.68,-1.12,-0.83,-0.97,-0.74,-0.86,-1.04,-0.65,-0.91,-0.77,-1.00,-0.90,-0.71,-1.06,-0.82,-0.62,-0.98,-0.87,-1.14,-0.75,-0.93,-0.66,-1.01,-0.80,-0.55,-0.95,-1.09,-0.78,-0.89,-0.70,-1.03,-0.84,-1.17,-0.73,-0.96,-0.60],
  [-0.85,-0.63,-1.00,-0.77,-0.92,-0.58,-1.11,-0.74,-0.86,-0.69,-0.97,-0.80,-0.54,-0.93,-1.06,-0.72,-0.88,-0.61,-1.02,-0.79,-0.95,-0.66,-1.14,-0.83,-0.70,-0.90,-0.56,-0.99,-0.75,-0.87,-1.09,-0.64,-0.94,-0.78,-0.60,-1.04,-0.81,-0.91,-0.68,-0.96],
  [-1.13,-0.72,-0.58,-0.94,-0.77,-0.63,-1.04,-0.84,-0.69,-0.90,-0.56,-0.99,-0.74,-0.87,-0.60,-1.15,-0.79,-0.66,-0.93,-0.71,-0.83,-0.52,-0.96,-0.75,-0.88,-0.65,-0.89,-0.54,-0.81,-1.00,-0.70,-0.92,-0.61,-1.08,-0.76,-0.85,-0.50,-0.97,-0.68,-0.80],
  [-0.53,-0.94,-0.63,-0.48,-0.83,-0.69,-0.40,-0.73,-0.56,-0.87,-0.68,-0.47,-0.85,-0.58,-0.33,-0.76,-0.92,-0.55,-0.70,-0.41,-0.97,-0.62,-0.50,-0.81,-0.66,-0.26,-0.74,-0.89,-0.52,-0.64,-0.37,-0.79,-1.00,-0.57,-0.72,-0.45,-0.86,-0.60,-0.35,-0.77],
  [-0.78,-0.47,-0.93,-0.56,-0.68,-0.33,-0.80,-0.60,-1.02,-0.52,-0.74,-0.43,-0.87,-0.61,-0.37,-0.76,-0.55,-0.89,-0.46,-0.69,-0.58,-0.96,-0.42,-0.72,-0.63,-0.29,-0.81,-0.53,-0.66,-0.88,-0.48,-0.75,-0.40,-0.62,-0.84,-0.71,-0.50,-0.83,-0.39,-0.64],
  [-0.58,-0.34,-0.92,-0.62,-0.47,-0.75,-0.56,-0.84,-0.39,-0.70,-0.28,-0.63,-0.90,-0.50,-0.74,-0.42,-0.81,-0.59,-0.35,-0.67,-0.64,-0.40,-0.77,-0.30,-0.89,-0.55,-0.68,-0.24,-0.82,-0.49,-0.98,-0.60,-0.37,-0.73,-0.52,-0.86,-0.44,-0.66,-0.18,-0.79],
  [-0.82,-0.40,-0.57,-0.23,-0.62,-0.58,-0.35,-0.72,-0.46,-0.19,-0.63,-0.41,-0.83,-0.53,-0.28,-0.67,-0.44,-0.87,-0.36,-0.56,-0.05,-0.61,-0.48,-0.76,-0.31,-0.52,-0.69,-0.25,-0.59,-0.42,-0.79,-0.50,-0.17,-0.64,-0.38,-0.73,-0.55,-0.29,-0.66,-0.45],
  [-0.57,-0.74,-0.45,-0.20,-0.66,-0.48,-0.90,-0.36,-0.60,-0.14,-0.53,-0.76,-0.40,-0.62,-0.29,-0.70,-0.47,-0.24,-0.58,-0.83,-0.43,-0.65,-0.32,-0.51,-0.10,-0.61,-0.44,-0.72,-0.37,-0.56,-0.52,-0.31,-0.69,-0.42,-0.84,-0.55,-0.26,-0.63,-0.38,-0.06],
  [-0.37,-0.15,-0.44,-0.01,-0.61,-0.28,-0.50,-0.19,-0.40,-0.07,-0.53,-0.31,-0.23,-0.46,-0.12,-0.36,-0.13,-0.49,-0.24,-0.62,-0.05,-0.41,-0.29,-0.69,-0.17,-0.52,0.03,-0.33,-0.45,-0.11,-0.58,-0.26,-0.38,0.11,-0.47,-0.21,-0.65,-0.30,-0.09,-0.55],
  [-0.25,-0.02,-0.38,-0.12,-0.50,0.08,-0.29,-0.17,-0.56,-0.05,-0.40,0.18,-0.22,-0.33,0.02,-0.46,-0.14,-0.27,0.26,-0.36,-0.09,-0.52,-0.19,0.04,-0.43,-0.24,-0.01,-0.32,0.12,-0.48,-0.16,-0.39,-0.07,-0.28,0.06,-0.42,-0.20,-0.11,-0.35,0.00],
  [-0.50,-0.19,-0.30,0.20,-0.40,-0.12,-0.56,-0.23,0.03,-0.47,-0.27,-0.04,-0.36,0.08,-0.52,-0.18,-0.43,-0.10,-0.31,0.05,-0.46,-0.22,-0.13,-0.38,-0.02,-0.28,-0.05,-0.42,-0.16,-0.57,0.10,-0.32,-0.21,-0.64,-0.08,-0.45,0.16,-0.25,-0.37,-0.01],
  [0.03,-0.21,0.12,-0.09,0.26,-0.25,0.00,0.09,-0.17,0.20,-0.06,0.18,-0.22,0.08,-0.36,0.28,-0.10,0.01,-0.40,0.14,-0.24,0.36,-0.03,-0.15,0.22,-0.30,0.05,-0.08,0.42,-0.19,0.11,-0.34,-0.02,0.24,-0.27,-0.05,0.17,-0.13,0.31,-0.29],
  [0.39,0.01,0.12,-0.30,0.25,-0.14,0.48,0.07,-0.05,0.34,-0.20,0.16,0.02,0.52,-0.09,0.21,-0.24,0.09,0.36,-0.17,0.05,0.29,-0.03,0.43,-0.19,0.13,-0.11,0.24,0.00,0.38,-0.15,0.10,0.20,-0.07,0.31,0.03,0.28,-0.12,0.19,-0.26],
  [0.22,-0.26,0.09,0.38,-0.18,0.05,0.31,-0.04,0.46,-0.21,0.14,-0.12,0.26,0.00,0.40,-0.17,0.11,0.21,-0.08,0.33,0.01,0.29,-0.14,0.20,-0.28,0.42,0.02,0.13,-0.34,0.27,-0.16,0.50,0.06,-0.06,0.37,-0.22,0.17,0.03,0.55,-0.10],
  [-0.30,-0.04,0.05,-0.21,0.16,-0.11,0.14,-0.27,0.04,-0.41,0.23,-0.15,-0.02,-0.45,0.10,-0.28,0.32,-0.07,-0.19,0.18,-0.35,0.01,-0.12,0.37,-0.23,0.07,-0.39,-0.05,0.20,-0.31,-0.09,0.13,-0.17,0.27,-0.34,-0.01,-0.25,0.08,-0.13,0.22],
  [-0.08,0.55,0.14,0.02,0.41,-0.13,0.23,0.09,0.60,-0.02,0.28,-0.16,0.16,0.43,-0.10,0.12,0.36,0.04,0.50,-0.11,0.21,-0.04,0.31,0.07,0.45,-0.08,0.18,0.27,0.00,0.38,0.10,0.35,-0.06,0.26,-0.18,0.46,0.08,0.20,-0.22,0.32],
  [0.22,0.46,0.14,0.60,-0.01,0.31,0.06,0.41,0.17,0.55,0.02,0.28,0.37,0.10,0.48,0.20,0.45,0.04,0.36,-0.08,0.56,0.18,0.30,-0.14,0.42,0.02,0.64,0.24,0.12,0.51,-0.03,0.33,0.19,0.68,0.08,0.38,-0.06,0.26,0.53,0.00],
  [0.30,0.55,0.13,0.46,0.00,0.66,0.28,0.40,-0.04,0.52,0.11,0.76,0.34,0.21,0.61,0.06,0.43,0.29,0.70,0.17,0.48,0.03,0.36,0.63,0.09,0.32,0.56,0.23,0.70,0.08,0.41,0.15,0.51,0.27,0.64,0.12,0.38,0.47,0.19,0.58],
  [0.38,0.73,0.59,1.10,0.48,0.78,0.35,0.66,0.93,0.41,0.62,0.86,0.54,1.00,0.39,0.71,0.47,0.81,0.57,0.95,0.44,0.68,0.77,0.50,0.88,0.60,0.84,0.45,0.76,0.32,0.96,0.58,0.70,0.28,0.82,0.43,1.05,0.64,0.52,0.90],
  [0.50,0.26,0.60,0.36,0.74,0.23,0.47,0.56,0.29,0.67,0.39,0.63,0.24,0.55,0.11,0.75,0.37,0.49,0.03,0.61,0.22,0.84,0.43,0.31,0.69,0.17,0.52,0.38,0.87,0.27,0.57,0.14,0.45,0.72,0.20,0.41,0.65,0.33,0.79,0.18],
  [0.83,0.45,0.57,0.13,0.69,0.30,0.93,0.51,0.39,0.77,0.25,0.60,0.46,0.90,0.35,0.65,0.21,0.53,0.80,0.28,0.49,0.73,0.41,0.87,0.26,0.58,0.34,0.68,0.44,0.82,0.31,0.55,0.64,0.37,0.75,0.47,0.71,0.32,0.63,0.19],
  [0.90,0.53,0.81,1.01,0.59,0.77,0.96,0.70,1.07,0.57,0.85,0.64,0.92,0.73,1.02,0.61,0.83,0.89,0.67,0.97,0.75,0.95,0.62,0.88,0.51,1.03,0.74,0.84,0.47,0.93,0.60,1.25,0.78,0.69,0.98,0.56,0.86,0.75,1.11,0.65],
  [0.53,0.76,0.83,0.59,0.91,0.67,0.89,0.53,0.81,0.42,0.98,0.66,0.77,0.32,0.86,0.52,1.16,0.71,0.61,0.92,0.48,0.79,0.67,1.08,0.57,0.84,0.44,0.74,0.96,0.50,0.70,0.90,0.62,1.02,0.47,0.78,0.56,0.85,0.64,0.97],
  [0.64,1.25,0.82,0.73,1.02,0.60,0.90,0.79,1.19,0.69,0.94,0.57,0.85,1.05,0.63,0.81,1.00,0.74,1.13,0.61,0.89,0.68,0.96,0.77,1.06,0.65,0.87,0.93,0.71,1.01,0.79,0.99,0.66,0.92,0.55,1.07,0.78,0.88,0.45,0.97],
  [0.91,1.10,0.85,1.23,0.74,0.99,0.79,1.06,0.88,1.19,0.76,0.96,1.02,0.81,1.09,0.87,1.07,0.75,1.00,0.65,1.15,0.90,0.98,0.55,1.05,0.73,1.29,0.93,0.83,1.12,0.71,1.01,0.92,1.51,0.80,1.03,0.68,0.95,1.17,0.77],
];

// ys traces (thinned draws), chain 0 and chain 1
const ysTrace0 = [
  [-2.96,-3.52,-4.38,-3.15,-3.70,-2.84,-3.98,-3.36,-4.57,-3.08,-3.58,-2.62,-3.91,-3.27,-3.74,-4.12,-3.40,-2.90,-3.66,-3.12,-4.30,-3.49,-2.78,-3.83,-3.19,-3.95,-3.55,-2.99,-4.15,-3.33,-3.21,-3.88,-3.05,-3.62,-4.20,-3.30,-2.71,-3.79,-3.44,-4.05],
  [-4.18,-3.21,-3.57,-2.89,-3.70,-3.10,-3.72,-2.91,-3.55,-4.02,-3.24,-2.66,-3.81,-3.40,-2.98,-4.25,-3.49,-3.05,-3.67,-2.79,-3.93,-3.31,-4.41,-3.18,-2.85,-3.60,-3.97,-3.02,-3.46,-2.58,-3.78,-3.27,-4.12,-3.52,-2.94,-3.64,-3.13,-3.88,-2.72,-3.43],
  [-4.31,-3.12,-3.66,-2.90,-3.81,-3.45,-4.15,-3.00,-3.59,-3.26,-4.37,-2.88,-3.73,-3.48,-3.14,-3.97,-3.33,-2.78,-3.89,-3.55,-3.75,-3.18,-4.08,-3.40,-2.83,-3.62,-4.48,-3.29,-3.86,-3.05,-4.23,-3.51,-2.96,-3.70,-4.00,-3.22,-3.57,-2.73,-3.93,-3.36],
  [-2.88,-2.30,-3.42,-3.05,-3.92,-2.66,-3.24,-2.45,-3.60,-2.95,-3.71,-2.21,-3.13,-4.11,-2.80,-3.30,-2.52,-3.55,-2.99,-3.85,-2.62,-3.17,-2.38,-3.48,-2.91,-3.66,-2.15,-3.09,-3.76,-2.69,-3.27,-2.83,-3.50,-2.47,-3.12,-2.72,-3.35,-2.58,-3.19,-3.80],
  [-2.85,-3.60,-3.05,-2.52,-3.84,-2.73,-3.22,-2.90,-3.50,-2.66,-2.80,-3.31,-2.60,-3.52,-2.95,-3.78,-2.42,-3.15,-2.70,-3.64,-3.08,-2.33,-3.45,-2.88,-4.09,-3.00,-2.55,-3.37,-2.76,-3.89,-3.12,-2.47,-3.58,-2.92,-3.27,-2.64,-3.71,-2.98,-2.20,-3.40],
  [-3.40,-3.05,-3.75,-2.62,-3.20,-2.92,-3.95,-3.10,-2.52,-3.62,-2.98,-3.33,-2.75,-3.80,-3.14,-2.60,-3.52,-2.88,-4.00,-3.25,-2.68,-3.45,-3.00,-2.80,-3.60,-3.36,-2.82,-3.65,-3.02,-2.58,-3.49,-2.90,-3.88,-3.15,-2.70,-4.10,-3.28,-2.85,-3.57,-2.45],
  [-2.60,-3.18,-2.42,-2.95,-3.50,-2.70,-2.20,-3.30,-2.85,-3.66,-2.52,-3.05,-2.34,-3.42,-2.77,-3.94,-2.62,-2.12,-3.22,-2.90,-3.58,-2.48,-3.02,-2.70,-3.37,-2.28,-2.98,-3.75,-2.55,-3.10,-2.80,-2.38,-3.46,-2.66,-3.14,-1.84,-2.92,-3.26,-2.58,-3.05],
  [-3.00,-2.85,-3.62,-2.48,-3.22,-2.70,-2.32,-3.36,-2.92,-2.58,-3.75,-2.78,-3.12,-2.45,-2.98,-3.10,-2.55,-3.40,-2.75,-2.30,-3.20,-2.62,-3.68,-2.90,-2.42,-3.55,-2.80,-2.15,-3.05,-2.68,-3.30,-2.50,-3.85,-2.95,-2.38,-3.15,-2.72,-3.48,-2.60,-2.05],
  [-2.05,-2.58,-1.85,-2.95,-2.30,-2.75,-1.60,-2.45,-3.35,-2.15,-2.62,-1.98,-2.88,-2.36,-3.10,-2.00,-2.52,-1.80,-2.72,-2.25,-3.00,-1.68,-2.42,-2.85,-2.12,-2.60,-1.90,-2.78,-2.32,-2.55,-2.10,-2.68,-1.92,-2.50,-3.05,-2.22,-1.72,-2.80,-2.40,-3.20],
  [-2.38,-1.68,-2.55,-2.05,-2.32,-1.88,-2.45,-1.70,-2.30,-2.82,-2.00,-1.50,-2.58,-2.15,-2.95,-1.82,-2.35,-1.62,-2.70,-2.08,-2.52,-1.40,-2.22,-3.08,-1.95,-2.40,-1.75,-2.65,-2.10,-2.88,-1.78,-2.28,-1.58,-2.50,-2.02,-2.78,-1.45,-2.18,-2.62,-1.90],
  [-2.58,-1.92,-2.82,-2.28,-3.02,-1.95,-2.48,-1.72,-2.70,-2.20,-2.92,-1.62,-2.35,-2.78,-2.02,-2.55,-1.82,-2.72,-2.25,-2.50,-2.05,-2.62,-1.85,-2.45,-2.98,-2.18,-1.65,-2.75,-2.30,-3.12,-1.98,-2.52,-1.78,-2.88,-2.25,-2.68,-1.55,-2.40,-3.25,-2.10],
  [-1.25,-0.72,-1.82,-1.40,-2.20,-1.05,-1.60,-0.85,-1.95,-1.32,-1.75,-0.60,-1.48,-2.35,-1.18,-1.65,-0.98,-1.88,-1.35,-2.10,-1.00,-1.55,-0.80,-1.78,-1.28,-2.00,-0.68,-1.42,-1.85,-1.10,-1.62,-0.90,-1.80,-1.30,-1.58,-1.12,-1.70,-0.92,-1.52,-2.05],
  [-2.28,-0.95,-1.70,-2.12,-1.40,-1.90,-1.20,-2.08,-1.60,-1.85,-1.42,-2.00,-1.22,-1.80,-2.32,-1.55,-1.02,-2.10,-1.68,-2.48,-1.35,-1.88,-1.15,-2.22,-1.60,-2.05,-0.88,-1.75,-2.62,-1.45,-1.95,-1.28,-2.15,-1.62,-2.38,-1.30,-1.82,-1.08,-2.08,-1.58],
  [-2.00,-0.82,-1.70,-2.60,-1.40,-1.88,-1.22,-2.12,-1.58,-2.35,-1.25,-1.78,-1.02,-2.02,-1.52,-2.25,-0.90,-1.65,-2.08,-1.32,-1.85,-1.12,-2.02,-1.55,-1.80,-1.35,-1.95,-1.15,-1.75,-2.28,-1.48,-0.95,-2.05,-1.62,-2.45,-1.28,-1.82,-1.08,-2.18,-1.55],
  [-1.38,-1.98,-1.18,-1.78,-2.30,-1.50,-0.98,-2.08,-1.65,-2.48,-1.30,-1.85,-1.10,-2.20,-1.58,-2.02,-0.85,-1.72,-2.62,-1.42,-1.90,-1.25,-2.15,-1.60,-2.38,-1.28,-1.80,-1.05,-2.05,-1.55,-2.28,-0.92,-1.68,-2.10,-1.35,-1.88,-1.15,-2.05,-1.58,-1.82],
  [-1.00,-1.55,-0.80,-1.80,-1.28,-2.02,-0.65,-1.42,-1.85,-1.10,-1.62,-0.88,-1.80,-1.32,-1.58,-1.12,-1.72,-0.92,-1.52,-2.05,-1.25,-0.72,-1.82,-1.40,-2.22,-1.05,-1.60,-0.85,-1.95,-1.32,-1.78,-0.58,-1.48,-2.38,-1.18,-1.65,-0.98,-1.90,-1.35,-2.12],
  [-0.72,-1.28,-0.52,-1.62,-1.00,-1.45,-0.25,-1.15,-2.05,-0.85,-1.32,-0.65,-1.58,-1.02,-1.80,-0.68,-1.22,-0.45,-1.48,-0.95,-1.70,-0.32,-1.10,-1.52,-0.78,-1.30,-0.55,-1.48,-1.00,-1.25,-0.80,-1.40,-0.58,-1.20,-1.72,-0.92,-0.38,-1.50,-1.08,-1.90],
  [-1.20,-0.45,-1.38,-0.90,-1.15,-0.68,-1.28,-0.48,-1.08,-1.62,-0.82,-0.28,-1.40,-0.98,-1.78,-0.60,-1.18,-0.42,-1.52,-0.90,-1.32,-0.15,-1.05,-1.95,-0.75,-1.22,-0.55,-1.48,-0.92,-1.70,-0.58,-1.12,-0.35,-1.38,-0.85,-1.60,-0.22,-1.00,-1.42,-0.68],
  [-0.62,0.05,-0.88,-0.32,-1.10,0.02,-0.52,0.25,-0.78,-0.25,-1.00,0.38,-0.38,-0.82,-0.08,-0.60,0.15,-0.78,-0.30,-0.55,-0.08,-0.68,0.12,-0.48,-1.00,-0.22,0.32,-0.78,-0.35,-1.18,0.00,-0.58,0.18,-0.92,-0.28,-0.72,0.45,-0.45,-1.35,-0.15],
  [-0.70,-0.15,-1.28,-0.85,-1.65,-0.48,-1.05,-0.30,-1.40,-0.78,-1.20,0.02,-0.92,-1.82,-0.62,-1.10,-0.42,-1.35,-0.80,-1.58,-0.45,-1.00,-0.22,-1.25,-0.72,-1.48,-0.10,-0.88,-1.30,-0.55,-1.08,-0.32,-1.25,-0.78,-1.02,-0.58,-1.18,-0.35,-0.98,-1.50],
  [-1.20,0.18,-0.60,-1.02,-0.28,-0.80,-0.05,-0.98,-0.50,-0.75,-0.30,-0.90,-0.08,-0.70,-1.22,-0.42,0.12,-1.00,-0.58,-1.40,-0.20,-0.78,-0.02,-1.12,-0.50,-0.92,0.28,-0.65,-1.56,-0.35,-0.82,-0.15,-1.08,-0.52,-1.30,-0.18,-0.72,0.05,-0.98,-0.45],
  [-0.55,0.62,-0.28,-1.15,0.02,-0.45,0.22,-0.70,-0.15,-0.90,0.20,-0.35,0.42,-0.60,-0.08,-0.82,0.55,-0.20,-0.65,0.10,-0.42,0.32,-0.60,-0.12,-0.38,0.10,-0.50,0.30,-0.30,-0.82,-0.05,0.50,-0.60,-0.18,-1.00,0.18,-0.40,0.35,-0.72,-0.10],
  [-0.02,-0.62,0.20,-0.42,-0.95,-0.15,0.40,-0.72,-0.30,-1.12,0.08,-0.52,0.25,-0.85,-0.22,-0.68,0.52,-0.40,-1.33,-0.08,-0.58,0.12,-0.82,-0.28,-1.02,0.10,-0.48,0.32,-0.72,-0.20,-0.95,0.45,-0.32,-0.78,0.00,-0.55,0.22,-0.72,-0.25,-0.50],
  [0.32,-0.22,0.55,-0.48,0.05,-0.70,0.68,-0.08,-0.52,0.25,-0.30,0.45,-0.48,0.00,-0.25,0.22,-0.38,0.45,-0.18,-0.70,0.08,0.62,-0.48,-0.05,-0.88,0.32,-0.28,0.48,-0.60,0.02,-0.42,0.75,-0.15,-1.04,0.15,-0.32,0.35,-0.58,-0.02,-0.78],
  [0.72,0.12,0.88,-0.20,0.42,-0.02,1.15,0.25,-0.65,0.55,0.08,0.75,-0.18,0.38,-0.38,0.72,0.18,0.95,-0.08,0.45,-0.30,1.35,0.32,-0.12,0.65,0.10,0.85,-0.08,0.40,0.15,0.62,0.02,0.85,0.22,-0.30,0.48,1.02,-0.08,0.35,-0.48],
];
const ysTrace1 = [
  [-3.97,-3.43,-4.60,-3.11,-3.72,-2.88,-4.06,-3.55,-3.29,-3.83,-4.21,-3.17,-3.64,-2.99,-3.90,-3.80,-3.14,-4.02,-3.47,-2.86,-3.69,-4.28,-3.33,-3.91,-3.02,-4.45,-3.58,-3.20,-5.43,-3.75,-2.95,-3.62,-4.10,-3.38,-2.74,-3.86,-3.25,-4.33,-3.52,-3.07],
  [-3.30,-2.88,-3.74,-3.45,-2.64,-3.95,-3.16,-3.61,-4.05,-3.02,-3.50,-2.81,-3.89,-3.25,-4.22,-3.37,-2.93,-3.70,-3.12,-3.83,-2.70,-4.43,-3.28,-3.55,-2.99,-3.78,-3.19,-4.00,-3.42,-2.85,-3.58,-2.97,-3.85,-3.20,-4.10,-3.41,-2.76,-3.66,-3.09,-4.31],
  [-3.44,-4.02,-3.12,-3.63,-2.87,-3.20,-3.78,-2.95,-3.60,-4.12,-3.35,-2.70,-3.88,-3.47,-4.30,-3.10,-3.66,-2.84,-3.52,-4.05,-3.28,-2.62,-3.81,-3.39,-4.47,-3.15,-3.72,-2.92,-3.56,-4.18,-3.03,-3.69,-3.25,-3.94,-2.78,-3.49,-4.24,-3.31,-2.99,-3.84],
  [-2.33,-3.53,-2.91,-3.70,-2.55,-3.26,-3.85,-2.82,-3.40,-2.20,-3.14,-2.97,-3.66,-2.64,-3.47,-2.88,-3.92,-2.73,-3.29,-2.45,-3.30,-2.74,-3.58,-2.95,-2.41,-3.22,-3.95,-2.86,-3.44,-2.60,-4.05,-3.11,-2.78,-3.62,-2.50,-3.36,-3.00,-3.82,-2.68,-3.18],
  [-2.45,-3.12,-2.77,-3.63,-3.02,-2.35,-3.41,-2.85,-3.95,-2.60,-3.20,-2.95,-3.72,-2.52,-3.33,-2.70,-4.10,-3.08,-2.58,-3.47,-2.83,-3.18,-2.42,-3.66,-2.98,-3.29,-2.62,-3.85,-2.88,-3.37,-2.50,-3.14,-2.75,-3.58,-3.05,-3.25,-2.68,-3.55,-2.90,-3.80],
  [-3.55,-2.78,-3.22,-2.50,-3.70,-3.05,-2.90,-3.35,-2.70,-3.48,-2.80,-3.42,-2.62,-3.30,-2.95,-3.75,-2.55,-3.18,-3.60,-2.73,-4.10,-3.08,-2.48,-3.50,-2.88,-3.25,-2.68,-3.90,-3.02,-2.40,-3.38,-2.85,-3.65,-3.12,-2.58,-3.45,-2.92,-3.82,-3.00,-2.65],
  [-2.58,-3.10,-2.40,-3.25,-2.82,-1.95,-3.50,-2.68,-3.00,-2.52,-3.35,-2.78,-2.18,-3.08,-2.62,-3.45,-2.90,-2.45,-3.20,-2.70,-3.78,-2.58,-2.92,-2.35,-3.12,-3.05,-2.55,-3.32,-2.72,-2.25,-3.15,-2.88,-3.60,-2.48,-3.02,-2.65,-3.40,-2.30,-2.95,-3.70],
  [-2.60,-3.15,-2.45,-3.38,-2.80,-2.25,-3.05,-2.70,-3.58,-2.92,-2.38,-3.28,-2.62,-3.80,-2.98,-2.50,-3.20,-2.75,-1.95,-3.10,-2.85,-3.45,-2.55,-3.02,-2.68,-3.65,-2.90,-2.35,-3.25,-2.78,-3.50,-2.58,-3.12,-2.42,-3.35,-2.88,-2.65,-3.70,-2.95,-2.52],
  [-2.80,-2.35,-1.72,-2.62,-2.98,-2.18,-2.48,-1.85,-2.90,-2.25,-3.12,-2.42,-1.98,-2.58,-2.30,-2.65,-2.12,-2.92,-2.32,-1.78,-2.55,-3.18,-2.20,-2.75,-1.95,-3.30,-2.45,-2.05,-2.85,-2.38,-1.65,-2.60,-3.05,-2.28,-1.88,-2.70,-2.15,-3.40,-2.50,-2.00],
  [-3.08,-2.22,-1.82,-2.62,-2.15,-1.42,-2.38,-2.80,-2.05,-1.65,-2.48,-1.92,-3.15,-2.28,-1.78,-2.58,-2.12,-1.50,-2.40,-2.75,-1.95,-2.25,-1.62,-2.68,-2.02,-2.88,-2.18,-1.75,-2.35,-2.08,-2.42,-1.90,-2.70,-2.08,-1.55,-2.32,-2.92,-1.98,-2.52,-1.72],
  [-2.90,-2.22,-1.78,-2.38,-2.10,-2.45,-1.92,-2.72,-2.12,-1.58,-2.35,-2.98,-2.00,-2.55,-1.75,-3.10,-2.25,-1.85,-2.65,-2.18,-1.45,-2.40,-2.85,-2.08,-1.68,-2.50,-1.95,-3.22,-2.30,-1.80,-2.60,-2.15,-1.52,-2.42,-2.78,-1.98,-2.28,-1.65,-2.70,-2.05],
  [-1.70,-1.15,-2.45,-1.50,-1.00,-1.80,-1.35,-0.72,-1.62,-1.98,-1.18,-1.48,-0.85,-1.90,-1.25,-2.12,-1.42,-0.98,-1.58,-1.30,-1.65,-1.12,-1.95,-1.32,-0.78,-1.55,-2.18,-1.20,-1.75,-0.95,-2.30,-1.45,-1.05,-1.85,-1.38,-0.62,-1.60,-2.05,-1.28,-0.88],
  [-1.78,-2.40,-1.42,-1.98,-1.18,-2.52,-1.68,-1.28,-2.08,-1.60,-0.85,-1.82,-2.28,-1.50,-1.10,-1.92,-1.38,-2.65,-1.72,-1.22,-2.02,-1.58,-0.95,-1.85,-2.20,-1.40,-1.70,-1.08,-2.12,-1.48,-2.35,-1.65,-1.20,-1.80,-1.52,-1.88,-1.35,-2.15,-1.55,-1.00],
  [-1.32,-1.62,-1.00,-2.05,-1.40,-2.30,-1.58,-1.12,-1.72,-1.45,-1.82,-1.28,-2.10,-1.48,-0.92,-1.72,-2.38,-1.35,-1.92,-1.10,-2.50,-1.62,-1.20,-2.02,-1.52,-0.78,-1.75,-2.22,-1.42,-1.02,-1.85,-1.30,-2.62,-1.65,-1.15,-1.95,-1.50,-0.88,-1.78,-2.15],
  [-1.05,-2.02,-2.48,-1.70,-1.30,-2.12,-1.58,-2.88,-1.95,-1.42,-2.22,-1.78,-1.15,-2.05,-2.42,-1.60,-1.90,-1.28,-2.32,-1.68,-2.55,-1.85,-1.40,-2.00,-1.72,-2.10,-1.55,-2.38,-1.75,-1.20,-2.00,-2.62,-1.62,-2.20,-1.38,-2.75,-1.90,-1.48,-2.30,-1.80],
  [-1.72,-1.18,-2.00,-1.38,-0.82,-1.60,-2.25,-1.25,-1.80,-0.98,-2.35,-1.50,-1.10,-1.90,-1.42,-0.68,-1.65,-2.10,-1.32,-0.92,-1.75,-1.20,-2.48,-1.55,-1.05,-1.85,-1.40,-0.75,-1.68,-2.02,-1.22,-1.52,-0.90,-1.95,-1.30,-2.18,-1.48,-1.02,-1.62,-1.35],
  [-1.50,-1.05,-0.40,-1.35,-1.68,-0.88,-1.18,-0.55,-1.60,-0.95,-1.85,-1.12,-0.68,-1.28,-1.00,-1.38,-0.82,-1.65,-1.02,-0.48,-1.25,-1.90,-0.90,-1.45,-0.62,-2.02,-1.15,-0.75,-1.55,-1.08,-0.32,-1.30,-1.78,-0.98,-0.58,-1.40,-0.85,-2.15,-1.20,-0.70],
  [-1.90,-1.02,-0.62,-1.42,-0.95,-0.20,-1.18,-1.65,-0.85,-0.45,-1.28,-0.72,-2.03,-1.08,-0.58,-1.38,-0.92,-0.28,-1.22,-1.55,-0.75,-1.05,-0.42,-1.48,-0.82,-1.72,-1.00,-0.55,-1.15,-0.88,-1.25,-0.70,-1.52,-0.90,-0.35,-1.12,-1.78,-0.78,-1.32,-0.50],
  [-1.05,-0.32,0.12,-0.48,-0.20,-0.58,-0.02,-0.85,-0.22,0.32,-0.45,-1.10,-0.10,-0.65,0.18,-1.22,-0.35,0.05,-0.75,-0.28,0.48,-0.50,-0.98,-0.18,0.22,-0.60,-0.05,-1.35,-0.40,0.10,-0.70,-0.25,0.40,-0.55,-0.88,-0.08,-0.38,0.25,-0.80,-0.15],
  [-1.15,-0.60,-1.92,-0.95,-0.45,-1.25,-0.80,-0.15,-1.10,-1.42,-0.62,-0.92,-0.30,-1.35,-0.70,-1.60,-0.88,-0.42,-1.02,-0.75,-1.12,-0.58,-1.40,-0.78,-0.22,-1.00,-1.65,-0.65,-1.20,-0.38,-1.78,-0.90,-0.50,-1.30,-0.82,-0.05,-1.05,-1.52,-0.72,-0.32],
  [-0.68,-1.32,-0.32,-0.88,-0.05,-1.47,-0.58,-0.15,-0.98,-0.50,0.28,-0.72,-1.20,-0.40,0.02,-0.82,-0.28,-1.55,-0.62,-0.12,-0.92,-0.48,0.18,-0.78,-1.10,-0.30,-0.60,0.05,-1.02,-0.38,-1.28,-0.55,-0.10,-0.70,-0.42,-0.80,-0.25,-1.08,-0.45,0.10],
  [0.02,-0.28,0.35,-0.70,-0.05,-0.95,-0.22,0.22,-0.38,-0.10,-0.48,0.08,-0.75,-0.12,0.42,-0.35,-1.00,0.00,-0.55,0.28,-1.12,-0.25,0.15,-0.65,-0.18,0.58,-0.40,-0.88,-0.08,0.32,-0.50,0.05,-1.20,-0.30,0.20,-0.60,-0.15,0.50,-0.45,-0.78],
  [0.55,-0.45,-0.92,-0.12,0.28,-0.55,0.00,-1.22,-0.35,0.15,-0.65,-0.20,0.45,-0.50,-0.82,-0.02,-0.32,0.30,-0.75,-0.10,-1.00,-0.28,0.18,-0.42,-0.15,-0.52,0.02,-0.80,-0.18,0.38,-0.40,-1.05,-0.05,-0.60,0.22,-1.36,-0.30,0.10,-0.70,-0.22],
  [-0.28,0.28,-0.55,0.08,0.62,-0.15,-0.80,0.20,-0.35,0.48,-1.05,-0.05,0.35,-0.45,0.02,0.78,-0.20,-0.68,0.12,0.52,-0.30,0.25,-0.98,-0.10,0.40,-0.40,0.05,0.70,-0.25,-0.58,0.22,-0.08,0.55,-0.50,0.15,-0.75,-0.02,0.42,-0.18,0.10],
  [0.00,0.45,1.10,0.15,-0.18,0.62,0.32,1.89,-0.10,0.55,-0.35,0.38,0.82,0.22,0.50,0.12,0.68,-0.15,0.48,1.02,0.25,-0.40,0.60,0.05,0.88,-0.60,0.35,0.75,-0.05,0.42,1.18,0.20,-0.28,0.52,0.92,0.10,0.65,-0.50,0.30,0.80],
];

// ------------------------------------------------------------------ styling helpers
const FONT = '"Liberation Sans", Arial, Helvetica, sans-serif';
const INK = "#262626";
const REF_COLOR = "rgba(110,110,110,0.7)";
const KDE_WIDTH = 2.2;
const KDE_DASH = [2.2, 3.6];
// single-variable traces and multi-variable traces
const SINGLE_TRACE = { width: 2.3, dash: [2.3, 3.2], alpha: 0.4 };
const MULTI_TRACE = { width: 2.6, dash: [2.6, 3.4], alpha: 0.5 };

function rgba(hex: string, a: number) {
  const n = parseInt(hex.slice(1), 16);
  return `rgba(${(n >> 16) & 255},${(n >> 8) & 255},${n & 255},${a})`;
}
function fmt(v: number, d: number) {
  const s = Math.abs(v).toFixed(d);
  return (v < -1e-9 ? "\u2212" : "") + s;
}
function pairs(xs: number[], ys: number[]) {
  return xs.map((x, j) => ({ x, y: ys[j] }));
}
function gridPairs(lo: number, hi: number, dens: number[]) {
  const n = dens.length;
  return dens.map((y, j) => ({ x: lo + ((hi - lo) * j) / (n - 1), y }));
}
function drawPairs(vals: number[]) {
  const n = vals.length;
  return vals.map((y, i) => ({ x: (DRAW_LAST * i) / (n - 1), y }));
}

const framePlugin = {
  id: "frame",
  afterDatasetsDraw(chart: any) {
    const { ctx, chartArea } = chart;
    ctx.save();
    ctx.strokeStyle = INK;
    ctx.lineWidth = 2;
    ctx.strokeRect(chartArea.left, chartArea.top, chartArea.right - chartArea.left, chartArea.bottom - chartArea.top);
    ctx.restore();
  },
};

function tickFont() {
  return { family: FONT, size: 19, lineHeight: 1.2 };
}

function xAxis(min: number, max: number, ticks: number[], dec: number) {
  return {
    type: "linear",
    position: "bottom",
    min,
    max,
    grid: { display: true, drawOnChartArea: false, drawTicks: true, tickLength: 10, tickWidth: 1.6, tickColor: INK, color: INK, lineWidth: 1.6 },
    border: { display: false },
    ticks: { font: tickFont(), color: INK, padding: 6, maxRotation: 0, autoSkip: false, includeBounds: false, callback: (v: any) => fmt(Number(v), dec) },
    afterBuildTicks: (s: any) => {
      s.ticks = ticks.map((v) => ({ value: v }));
    },
    afterFit: (s: any) => {
      s.height = 50;
    },
  };
}
function yAxisTicks(min: number, max: number, ticks: number[], dec: number) {
  return {
    type: "linear",
    position: "left",
    min,
    max,
    grid: { display: true, drawOnChartArea: false, drawTicks: true, tickLength: 10, tickWidth: 1.6, tickColor: INK, color: INK, lineWidth: 1.6 },
    border: { display: false },
    ticks: { font: tickFont(), color: INK, padding: 9, autoSkip: false, includeBounds: false, callback: (v: any) => fmt(Number(v), dec) },
    afterBuildTicks: (s: any) => {
      s.ticks = ticks.map((v) => ({ value: v }));
    },
    afterFit: (s: any) => {
      s.width = 87;
    },
  };
}

function baseOptions(title: string, padLeft: number, padRight: number, scales: any) {
  return {
    responsive: false,
    animation: false,
    devicePixelRatio: 1,
    events: [],
    layout: { padding: { left: padLeft, right: padRight, top: 0, bottom: 0 }, autoPadding: false },
    plugins: {
      legend: { display: false },
      tooltip: { enabled: false },
      title: {
        display: true,
        text: title,
        fullSize: false,
        color: INK,
        font: { family: FONT, size: 20, weight: "normal", lineHeight: 1.2 },
        padding: { top: 8, bottom: 8 },
      },
    },
    scales,
  };
}

type Curve = { data: { x: number; y: number }[]; color: string; dashed: boolean };

function kdeConfig(title: string, curves: Curve[], ref: number | null, ticks: number[], dec: number) {
  let xmin = Infinity, xmax = -Infinity, ymin = Infinity, ymax = -Infinity;
  curves.forEach((c) => c.data.forEach((p) => {
    xmin = Math.min(xmin, p.x); xmax = Math.max(xmax, p.x);
    ymin = Math.min(ymin, p.y); ymax = Math.max(ymax, p.y);
  }));
  const rx = xmax - xmin;
  const ry = ymax - ymin;
  const n = curves.length;
  const datasets: any[] = curves.map((c, k) => ({
    data: c.data,
    borderColor: c.color,
    borderWidth: KDE_WIDTH,
    borderDash: c.dashed ? KDE_DASH : [],
    borderJoinStyle: "round",
    pointRadius: 0,
    cubicInterpolationMode: "monotone",
    order: n - k,
  }));
  let yLo = ymin - 0.05 * ry, yHi = ymax + 0.05 * ry;
  if (ref !== null) {
    datasets.push({
      data: [{ x: ref, y: yLo }, { x: ref, y: yHi }],
      borderColor: REF_COLOR,
      borderWidth: 2,
      pointRadius: 0,
      order: -1,
    });
    const r2 = yHi - yLo;
    yLo -= 0.05 * r2;
    yHi += 0.05 * r2;
  }
  return {
    type: "line",
    data: { datasets },
    options: baseOptions(title, 27, 20, {
      x: xAxis(xmin - 0.05 * rx, xmax + 0.05 * rx, ticks, dec),
      y: { type: "linear", display: false, min: yLo, max: yHi },
    }),
    plugins: [framePlugin],
  };
}

function traceConfig(title: string, lines: Curve[], ref: number | null, ticks: number[], dec: number, style: { width: number; dash: number[]; alpha: number }) {
  let ymin = Infinity, ymax = -Infinity;
  lines.forEach((c) => c.data.forEach((p) => { ymin = Math.min(ymin, p.y); ymax = Math.max(ymax, p.y); }));
  const ry = ymax - ymin;
  const n = lines.length;
  const datasets: any[] = lines.map((c, k) => ({
    data: c.data,
    borderColor: rgba(c.color, style.alpha),
    borderWidth: style.width,
    borderDash: c.dashed ? style.dash : [],
    borderJoinStyle: "round",
    pointRadius: 0,
    tension: 0,
    order: n - k,
  }));
  if (ref !== null) {
    datasets.push({
      data: [{ x: 0, y: ref }, { x: DRAW_LAST, y: ref }],
      borderColor: REF_COLOR,
      borderWidth: 2.5,
      pointRadius: 0,
      order: -1,
    });
  }
  return {
    type: "line",
    data: { datasets },
    options: baseOptions(title, 0, 14, {
      x: xAxis(0, DRAW_LAST, DRAW_TICKS, 0),
      y: yAxisTicks(ymin - 0.05 * ry, ymax + 0.05 * ry, ticks, dec),
    }),
    plugins: [framePlugin],
  };
}

// ------------------------------------------------------------------ panels
const BLUE = PALETTE[0];

function pairCurves(x0: number[], y0: number[], x1: number[], y1: number[]): Curve[] {
  return [
    { data: pairs(x0, y0), color: BLUE, dashed: false },
    { data: pairs(x1, y1), color: BLUE, dashed: true },
  ];
}
function pairTraces(t0: number[], t1: number[]): Curve[] {
  return [
    { data: drawPairs(t0), color: BLUE, dashed: false },
    { data: drawPairs(t1), color: BLUE, dashed: true },
  ];
}
function multiKde(lo0: number[], hi0: number[], d0: number[][], lo1: number[], hi1: number[], d1: number[][]): Curve[] {
  const out: Curve[] = [];
  d0.forEach((_, v) => {
    const color = PALETTE[v % PALETTE.length];
    out.push({ data: gridPairs(lo0[v], hi0[v], d0[v]), color, dashed: false });
    out.push({ data: gridPairs(lo1[v], hi1[v], d1[v]), color, dashed: true });
  });
  return out;
}
function multiTrace(t0: number[][], t1: number[][]): Curve[] {
  const out: Curve[] = [];
  t0.forEach((_, v) => {
    const color = PALETTE[v % PALETTE.length];
    out.push({ data: drawPairs(t0[v]), color, dashed: false });
    out.push({ data: drawPairs(t1[v]), color, dashed: true });
  });
  return out;
}

const ROW_TOP = 42;
const ROW_PITCH = 288;

type Spec = { key: string; left: number; top: number; width: number; height: number; make: () => any };

function rowSpecs(row: number, name: string, kde: () => any, trace: () => any): Spec[] {
  const top = ROW_TOP + ROW_PITCH * row - 40;
  return [
    { key: name + "-kde", left: 0, top, width: 850, height: 300, make: kde },
    { key: name + "-trace", left: 840, top, width: 904, height: 300, make: trace },
  ];
}

const SPECS: Spec[] = [
  ...rowSpecs(0, "l",
    () => kdeConfig("l", pairCurves(lKdeX0, lKdeY0, lKdeX1, lKdeY1), lRef, lKdeTicks, 1),
    () => traceConfig("l", pairTraces(lTrace0, lTrace1), lRef, lTraceTicks, 2, SINGLE_TRACE)),
  ...rowSpecs(1, "u",
    () => kdeConfig("u", pairCurves(uKdeX0, uKdeY0, uKdeX1, uKdeY1), uRef, uKdeTicks, 1),
    () => traceConfig("u", pairTraces(uTrace0, uTrace1), uRef, uTraceTicks, 2, SINGLE_TRACE)),
  ...rowSpecs(2, "m",
    () => kdeConfig("m", pairCurves(mKdeX0, mKdeY0, mKdeX1, mKdeY1), mRef, mKdeTicks, 1),
    () => traceConfig("m", pairTraces(mTrace0, mTrace1), mRef, mTraceTicks, 0, SINGLE_TRACE)),
  ...rowSpecs(3, "b",
    () => kdeConfig("b", pairCurves(bKdeX0, bKdeY0, bKdeX1, bKdeY1), bRef, bKdeTicks, 1),
    () => traceConfig("b", pairTraces(bTrace0, bTrace1), bRef, bTraceTicks, 1, SINGLE_TRACE)),
  ...rowSpecs(4, "xs",
    () => kdeConfig("xs", multiKde(xsLo0, xsHi0, xsDens0, xsLo1, xsHi1, xsDens1), null, xsKdeTicks, 1),
    () => traceConfig("xs", multiTrace(xsTrace0, xsTrace1), null, xsTraceTicks, 0, MULTI_TRACE)),
  ...rowSpecs(5, "ys",
    () => kdeConfig("ys", multiKde(ysLo0, ysHi0, ysDens0, ysLo1, ysHi1, ysDens1), null, ysKdeTicks, 0),
    () => traceConfig("ys", multiTrace(ysTrace0, ysTrace1), null, ysTraceTicks, 0, MULTI_TRACE)),
];

function ChartCanvas({ spec }: { spec: Spec }) {
  const ref = useRef<HTMLCanvasElement>(null);
  useEffect(() => {
    if (!ref.current) return;
    const chart = new Chart(ref.current, spec.make());
    return () => chart.destroy();
  }, [spec]);
  return (
    <canvas
      ref={ref}
      width={spec.width}
      height={spec.height}
      style={{ position: "absolute", left: spec.left, top: spec.top, width: spec.width, height: spec.height }}
    />
  );
}

export default function App() {
  return (
    <div style={{ position: "absolute", left: 0, top: 0, width: 1744, height: 1744, background: "#ffffff" }}>
      {SPECS.map((s) => (
        <ChartCanvas key={s.key} spec={s} />
      ))}
    </div>
  );
}
